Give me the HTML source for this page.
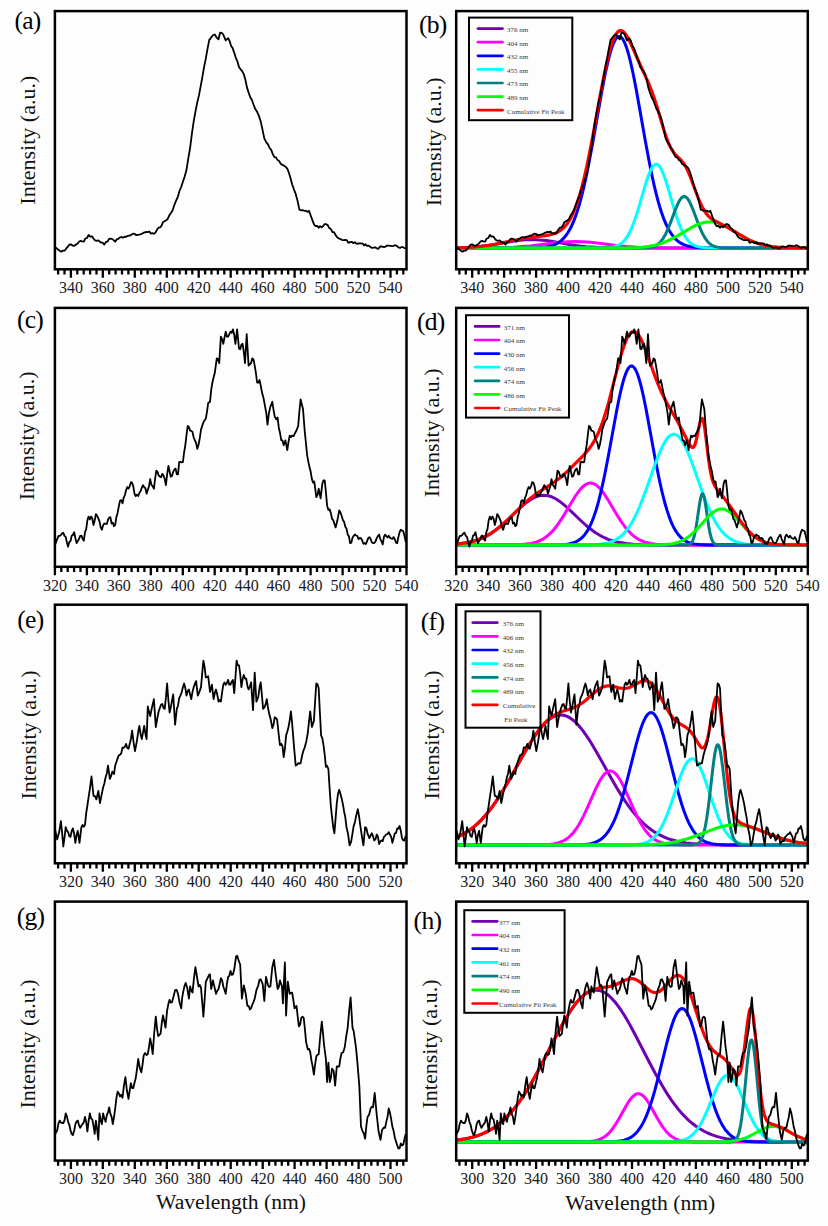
<!DOCTYPE html>
<html><head><meta charset="utf-8"><style>
html,body{margin:0;padding:0;background:#fdfdfd;}
body{width:828px;height:1226px;overflow:hidden;font-family:"Liberation Serif",serif;}
svg{display:block;}
</style></head><body>
<svg width="828" height="1226" viewBox="0 0 828 1226">
<clipPath id="clip00"><rect x="54.9" y="11.1" width="351.6" height="258.2"/></clipPath>
<path d="M58.1 269.3v5.1 M64.5 269.3v5.1 M70.9 269.3v8.4 M77.3 269.3v5.1 M83.7 269.3v5.1 M90.1 269.3v5.1 M96.5 269.3v5.1 M102.8 269.3v8.4 M109.2 269.3v5.1 M115.6 269.3v5.1 M122.0 269.3v5.1 M128.4 269.3v5.1 M134.8 269.3v8.4 M141.2 269.3v5.1 M147.6 269.3v5.1 M154.0 269.3v5.1 M160.4 269.3v5.1 M166.8 269.3v8.4 M173.2 269.3v5.1 M179.6 269.3v5.1 M186.0 269.3v5.1 M192.3 269.3v5.1 M198.7 269.3v8.4 M205.1 269.3v5.1 M211.5 269.3v5.1 M217.9 269.3v5.1 M224.3 269.3v5.1 M230.7 269.3v8.4 M237.1 269.3v5.1 M243.5 269.3v5.1 M249.9 269.3v5.1 M256.3 269.3v5.1 M262.7 269.3v8.4 M269.1 269.3v5.1 M275.4 269.3v5.1 M281.8 269.3v5.1 M288.2 269.3v5.1 M294.6 269.3v8.4 M301.0 269.3v5.1 M307.4 269.3v5.1 M313.8 269.3v5.1 M320.2 269.3v5.1 M326.6 269.3v8.4 M333.0 269.3v5.1 M339.4 269.3v5.1 M345.8 269.3v5.1 M352.2 269.3v5.1 M358.6 269.3v8.4 M364.9 269.3v5.1 M371.3 269.3v5.1 M377.7 269.3v5.1 M384.1 269.3v5.1 M390.5 269.3v8.4 M396.9 269.3v5.1 M403.3 269.3v5.1" stroke="#000" stroke-width="2.3" fill="none"/>
<g font-family="Liberation Serif, serif" font-size="16" text-anchor="middle" fill="#1a1a1a"><text x="70.9" y="293.1">340</text><text x="102.8" y="293.1">360</text><text x="134.8" y="293.1">380</text><text x="166.8" y="293.1">400</text><text x="198.7" y="293.1">420</text><text x="230.7" y="293.1">440</text><text x="262.7" y="293.1">460</text><text x="294.6" y="293.1">480</text><text x="326.6" y="293.1">500</text><text x="358.6" y="293.1">520</text><text x="390.5" y="293.1">540</text></g>
<g clip-path="url(#clip00)"><polyline points="54.8,247.1 56.4,248.1 58.1,249.6 59.7,250.7 61.3,251.7 62.9,250.6 64.5,250.7 66.1,248.7 67.7,246.9 69.3,244.6 70.9,244.3 72.5,245.5 74.2,245.8 75.8,244.8 77.4,243.8 79.0,241.7 80.6,240.8 82.2,241.3 83.8,241.7 85.4,238.5 87.0,238.0 88.6,235.0 90.3,236.6 91.9,236.3 93.5,238.6 95.1,240.3 96.7,240.8 98.3,240.3 99.8,241.7 101.3,242.7 102.8,242.7 104.3,244.6 105.9,242.0 107.4,241.7 108.9,239.1 110.4,238.6 112.0,238.9 113.6,240.1 115.2,241.7 116.8,239.2 118.4,238.8 120.0,237.4 121.5,237.0 122.9,237.7 124.4,236.7 125.8,236.8 127.3,236.2 128.7,235.7 130.2,235.6 131.6,234.6 133.1,233.7 134.5,233.8 136.0,235.0 137.4,235.0 138.9,234.6 140.3,234.3 141.8,233.8 143.3,232.9 144.8,232.3 146.3,232.0 147.8,232.1 149.3,231.5 150.8,233.6 152.4,233.1 153.9,233.8 155.5,232.6 157.1,229.5 158.7,227.7 160.1,227.4 161.6,225.7 163.0,222.2 164.5,221.2 165.9,220.5 167.6,219.1 169.2,215.6 170.8,213.2 172.6,210.2 174.4,204.8 176.2,200.3 178.0,196.3 179.6,190.5 181.2,187.0 182.9,181.8 184.7,176.5 186.5,169.8 188.3,158.3 190.1,148.0 191.9,133.7 193.7,121.4 195.5,111.4 197.3,102.1 199.0,95.2 200.6,86.6 202.2,78.0 204.0,67.4 205.8,58.6 207.6,48.4 209.4,39.3 210.0,39.3 211.6,36.8 213.2,35.0 214.8,34.5 216.6,37.6 218.5,39.3 220.1,32.6 221.7,32.8 223.3,34.5 224.5,37.7 225.7,40.5 226.9,39.2 228.1,38.1 229.6,41.0 231.1,45.9 232.6,48.1 234.2,52.6 235.8,57.8 237.4,61.4 239.0,67.1 240.6,69.3 242.2,71.2 243.8,74.3 245.4,79.8 247.0,87.6 248.6,92.5 250.3,97.2 251.9,100.0 253.5,104.5 255.3,109.1 257.1,111.8 258.9,115.9 260.7,121.4 262.5,129.6 264.3,138.4 266.2,142.2 268.0,144.4 269.6,148.0 271.2,149.9 272.8,154.1 274.4,157.2 276.0,157.4 277.6,160.1 279.2,161.1 280.9,164.0 282.5,164.9 284.1,165.7 285.7,166.9 287.3,168.6 288.9,172.8 290.5,178.0 292.1,184.3 293.9,189.3 295.7,193.9 297.6,201.1 299.4,209.6 301.0,210.3 302.6,210.1 304.2,210.8 305.8,210.7 307.4,211.9 309.0,210.8 310.6,215.2 312.3,219.9 313.9,224.1 315.5,226.2 317.1,225.8 318.7,227.7 320.1,226.2 321.6,227.3 323.0,226.3 324.5,224.2 325.9,224.1 327.6,225.0 329.2,227.9 330.8,228.9 332.4,232.0 334.0,232.2 335.6,235.0 337.1,237.3 338.6,238.3 340.1,238.8 341.6,239.8 343.3,240.1 345.0,239.8 346.7,240.1 348.4,242.8 350.1,242.2 351.7,241.8 353.3,243.1 354.9,242.2 356.5,243.8 358.1,243.5 359.8,243.4 361.2,243.4 362.7,243.6 364.1,245.4 365.6,244.3 367.0,245.8 368.6,245.6 370.2,246.8 371.8,247.9 373.4,247.7 375.1,247.3 376.7,248.3 378.1,249.0 379.6,247.1 381.0,246.4 382.5,246.7 383.9,247.1 385.5,246.7 387.1,245.6 388.7,245.7 390.4,245.9 392.0,246.2 393.6,245.8 395.2,245.2 396.8,245.9 398.4,247.4 400.0,247.8 401.6,247.2 403.2,247.1 404.4,248.1 405.7,248.3" fill="none" stroke="#000" stroke-width="1.8" stroke-linejoin="round"/></g>
<rect x="54.9" y="11.1" width="351.6" height="258.2" fill="none" stroke="#000" stroke-width="2.5"/>
<text x="14.4" y="29.4" font-family="Liberation Serif, serif" font-size="25.5" letter-spacing="-0.7" fill="#000">(a)</text>
<text transform="translate(34.9,140.2) rotate(-90)" text-anchor="middle" font-family="Liberation Serif, serif" font-size="22" fill="#111">Intensity (a.u.)</text>
<clipPath id="clip01"><rect x="456.2" y="11.1" width="351.6" height="258.2"/></clipPath>
<path d="M459.4 269.3v5.1 M465.8 269.3v5.1 M472.2 269.3v8.4 M478.6 269.3v5.1 M485.0 269.3v5.1 M491.4 269.3v5.1 M497.8 269.3v5.1 M504.1 269.3v8.4 M510.5 269.3v5.1 M516.9 269.3v5.1 M523.3 269.3v5.1 M529.7 269.3v5.1 M536.1 269.3v8.4 M542.5 269.3v5.1 M548.9 269.3v5.1 M555.3 269.3v5.1 M561.7 269.3v5.1 M568.1 269.3v8.4 M574.5 269.3v5.1 M580.9 269.3v5.1 M587.3 269.3v5.1 M593.6 269.3v5.1 M600.0 269.3v8.4 M606.4 269.3v5.1 M612.8 269.3v5.1 M619.2 269.3v5.1 M625.6 269.3v5.1 M632.0 269.3v8.4 M638.4 269.3v5.1 M644.8 269.3v5.1 M651.2 269.3v5.1 M657.6 269.3v5.1 M664.0 269.3v8.4 M670.4 269.3v5.1 M676.7 269.3v5.1 M683.1 269.3v5.1 M689.5 269.3v5.1 M695.9 269.3v8.4 M702.3 269.3v5.1 M708.7 269.3v5.1 M715.1 269.3v5.1 M721.5 269.3v5.1 M727.9 269.3v8.4 M734.3 269.3v5.1 M740.7 269.3v5.1 M747.1 269.3v5.1 M753.5 269.3v5.1 M759.9 269.3v8.4 M766.2 269.3v5.1 M772.6 269.3v5.1 M779.0 269.3v5.1 M785.4 269.3v5.1 M791.8 269.3v8.4 M798.2 269.3v5.1 M804.6 269.3v5.1" stroke="#000" stroke-width="2.3" fill="none"/>
<g font-family="Liberation Serif, serif" font-size="16" text-anchor="middle" fill="#1a1a1a"><text x="472.2" y="293.1">340</text><text x="504.1" y="293.1">360</text><text x="536.1" y="293.1">380</text><text x="568.1" y="293.1">400</text><text x="600.0" y="293.1">420</text><text x="632.0" y="293.1">440</text><text x="664.0" y="293.1">460</text><text x="695.9" y="293.1">480</text><text x="727.9" y="293.1">500</text><text x="759.9" y="293.1">520</text><text x="791.8" y="293.1">540</text></g>
<g clip-path="url(#clip01)"><polyline points="456.2,247.8 463.7,247.6 470.2,247.3 476.2,246.8 481.7,246.3 487.2,245.7 493.2,244.8 511.2,241.6 517.7,240.6 525.2,239.8 528.7,239.7 532.2,239.6 535.7,239.7 539.2,239.9 546.2,240.6 552.7,241.6 570.7,244.8 576.2,245.6 581.2,246.2 586.2,246.7 591.7,247.1 603.2,247.7 615.2,247.9 633.2,248.0 807.7,248.0" fill="none" stroke="#6f00b3" stroke-width="3" stroke-linejoin="round"/><polyline points="456.2,248.0 492.7,247.8 504.2,247.6 513.7,247.2 522.2,246.6 530.2,245.9 537.7,245.0 553.2,243.0 560.7,242.2 568.2,241.7 575.2,241.5 582.7,241.7 590.2,242.3 597.2,243.1 616.2,245.5 626.7,246.5 636.7,247.2 647.7,247.7 660.2,247.9 677.7,248.0 807.7,248.0" fill="none" stroke="#ff00ff" stroke-width="3" stroke-linejoin="round"/><polyline points="456.2,248.0 527.2,248.0 537.2,247.7 543.7,247.3 547.2,246.8 550.7,246.0 553.7,245.1 556.2,243.9 558.7,242.5 561.2,240.6 563.7,238.2 565.7,235.8 567.7,233.0 569.7,229.6 571.7,225.7 573.7,221.1 575.7,215.9 577.2,211.5 579.2,205.1 580.7,199.7 582.7,191.9 584.7,183.4 586.7,174.2 588.7,164.3 592.7,142.9 602.2,89.4 605.2,74.0 607.7,62.6 609.2,56.6 610.7,51.2 612.2,46.6 613.7,42.8 615.2,39.8 616.2,38.4 616.7,37.8 617.7,37.0 618.2,36.7 619.2,36.5 620.2,36.7 620.7,37.0 621.7,37.8 622.2,38.4 623.2,39.8 624.7,42.8 626.2,46.6 627.7,51.2 629.2,56.6 630.7,62.6 633.2,74.0 636.2,89.4 645.7,142.9 649.7,164.3 652.2,176.5 654.2,185.6 656.2,193.9 658.2,201.5 659.7,206.7 661.7,213.0 663.7,218.6 665.7,223.5 667.7,227.7 669.7,231.3 671.7,234.4 674.2,237.6 676.2,239.7 678.7,241.8 681.2,243.4 683.7,244.7 686.7,245.7 689.7,246.5 693.2,247.1 697.2,247.5 704.2,247.8 714.7,248.0 807.7,248.0" fill="none" stroke="#0000ff" stroke-width="3" stroke-linejoin="round"/><polyline points="456.2,248.0 600.7,247.9 606.7,247.8 610.7,247.4 614.2,246.7 617.2,245.8 619.2,244.8 620.7,243.8 622.7,242.2 624.2,240.7 625.7,238.8 627.2,236.7 628.7,234.1 630.2,231.2 631.7,227.9 633.2,224.2 636.2,215.7 638.7,207.6 645.2,185.2 647.2,179.0 648.7,174.8 650.7,170.1 651.7,168.2 652.7,166.7 653.7,165.5 654.7,164.7 655.7,164.3 656.2,164.3 656.7,164.3 657.7,164.7 658.7,165.5 659.7,166.7 660.7,168.2 661.7,170.1 663.7,174.8 665.2,179.0 667.2,185.2 673.7,207.6 676.2,215.7 679.2,224.2 681.7,230.2 684.2,235.0 685.7,237.4 687.2,239.5 688.7,241.2 690.2,242.6 691.7,243.8 693.2,244.8 694.7,245.5 696.2,246.1 697.7,246.6 699.7,247.1 703.7,247.6 708.7,247.9 721.2,248.0 807.7,248.0" fill="none" stroke="#00ffff" stroke-width="3" stroke-linejoin="round"/><polyline points="456.2,248.0 637.7,248.0 646.2,247.8 649.2,247.5 651.7,247.1 653.7,246.5 655.2,245.9 656.7,245.0 658.2,244.0 659.7,242.7 660.7,241.6 662.2,239.7 663.2,238.3 664.2,236.6 665.7,233.9 668.2,228.4 670.2,223.5 675.7,208.8 678.2,203.1 679.7,200.3 681.2,198.2 682.2,197.3 682.7,196.9 683.7,196.5 684.2,196.5 684.7,196.5 685.7,196.9 686.2,197.3 687.2,198.2 688.7,200.3 690.2,203.1 692.7,208.8 698.2,223.5 700.2,228.4 702.2,232.9 704.2,236.6 706.2,239.7 707.2,241.0 708.7,242.7 709.7,243.6 711.2,244.7 712.2,245.3 713.7,246.1 716.2,246.9 718.7,247.4 721.7,247.7 726.2,247.9 807.7,248.0" fill="none" stroke="#008080" stroke-width="3" stroke-linejoin="round"/><polyline points="456.2,248.0 616.2,248.0 625.7,247.9 632.7,247.7 638.7,247.4 643.7,246.9 649.2,246.2 654.7,245.2 659.7,243.9 664.2,242.3 668.7,240.4 673.7,237.9 678.7,235.1 690.2,228.2 693.2,226.6 696.2,225.1 699.7,223.7 703.2,222.7 706.7,222.1 709.7,221.9 712.7,222.1 715.7,222.6 718.7,223.5 722.2,224.8 725.2,226.2 728.2,227.8 741.7,235.8 748.2,239.3 751.7,241.0 755.2,242.4 758.7,243.6 762.2,244.6 766.2,245.6 770.2,246.3 774.7,246.9 779.2,247.3 784.7,247.6 790.7,247.8 807.7,248.0" fill="none" stroke="#00ff00" stroke-width="3" stroke-linejoin="round"/><polyline points="456.2,247.8 465.2,247.5 472.7,247.1 479.7,246.5 486.7,245.6 492.2,244.8 497.7,243.8 517.2,239.7 524.7,238.3 532.2,237.1 545.2,235.6 549.7,234.8 552.2,234.2 554.7,233.4 557.2,232.4 559.2,231.2 561.2,229.9 563.2,228.2 565.2,226.1 566.7,224.3 569.2,220.6 571.2,217.1 573.2,213.0 575.2,208.2 577.2,202.8 579.2,196.6 581.2,189.7 583.2,182.0 586.7,166.9 590.2,149.8 593.7,131.3 600.7,92.6 604.2,74.5 607.2,60.6 609.7,50.7 611.2,45.6 612.7,41.2 614.2,37.5 615.2,35.5 616.2,33.9 617.7,32.0 618.2,31.6 619.2,30.9 619.7,30.8 620.7,30.6 621.7,30.8 622.7,31.3 623.7,32.0 624.7,33.1 625.7,34.3 626.7,35.8 628.7,39.3 631.7,45.5 638.7,61.5 646.2,77.8 648.7,83.5 651.7,91.0 654.2,98.1 657.2,107.5 662.7,126.0 664.7,132.5 667.2,139.7 668.7,143.5 669.7,145.7 671.7,149.6 673.7,152.6 675.7,155.0 680.2,159.3 681.7,160.9 683.7,163.4 685.7,166.7 687.7,170.6 689.7,175.3 691.7,180.5 697.2,195.5 700.2,202.8 702.2,207.0 703.7,209.8 705.2,212.1 707.2,214.8 708.7,216.4 710.7,218.2 712.7,219.6 714.7,220.8 723.2,225.1 727.2,227.2 731.2,229.5 741.2,235.5 746.7,238.6 749.7,240.1 752.7,241.4 755.2,242.4 758.2,243.5 762.2,244.6 766.7,245.7 771.7,246.5 776.7,247.1 782.2,247.5 788.7,247.7 796.7,247.9 807.7,248.0" fill="none" stroke="#ff0000" stroke-width="3.2" stroke-linejoin="round"/><polyline points="456.1,247.1 457.7,248.1 459.4,249.6 461.0,250.7 462.6,251.7 464.2,250.6 465.8,250.7 467.4,248.7 469.0,246.9 470.6,244.6 472.2,244.3 473.8,245.5 475.5,245.8 477.1,244.8 478.7,243.8 480.3,241.7 481.9,240.8 483.5,241.3 485.1,241.7 486.7,238.5 488.3,238.0 489.9,235.0 491.6,236.6 493.2,236.3 494.8,238.6 496.4,240.3 498.0,240.8 499.6,240.3 501.1,241.7 502.6,242.7 504.1,242.7 505.6,244.6 507.2,242.0 508.7,241.7 510.2,239.1 511.7,238.6 513.3,238.9 514.9,240.1 516.5,241.7 518.1,239.2 519.7,238.8 521.3,237.4 522.8,237.0 524.2,237.7 525.7,236.7 527.1,236.8 528.6,236.2 530.0,235.7 531.5,235.6 532.9,234.6 534.4,233.7 535.8,233.8 537.3,235.0 538.7,235.0 540.2,234.6 541.6,234.3 543.1,233.8 544.6,232.9 546.1,232.3 547.6,232.0 549.1,232.1 550.6,231.5 552.1,233.6 553.7,233.1 555.2,233.8 556.8,232.6 558.4,229.5 560.0,227.7 561.4,227.4 562.9,225.7 564.3,222.2 565.8,221.2 567.2,220.5 568.9,219.1 570.5,215.6 572.1,213.2 573.9,210.2 575.7,204.8 577.5,200.3 579.3,196.3 580.9,190.5 582.5,187.0 584.2,181.8 586.0,176.5 587.8,169.8 589.6,158.3 591.4,148.0 593.2,133.7 595.0,121.4 596.8,111.4 598.6,102.1 600.3,95.2 601.9,86.6 603.5,78.0 605.3,67.4 607.1,58.6 608.9,48.4 610.7,39.3 611.3,39.3 612.9,36.8 614.5,35.0 616.1,34.5 617.9,37.6 619.8,39.3 621.4,32.6 623.0,32.8 624.6,34.5 625.8,37.7 627.0,40.5 628.2,39.2 629.4,38.1 630.9,41.0 632.4,45.9 633.9,48.1 635.5,52.6 637.1,57.8 638.7,61.4 640.3,67.1 641.9,69.3 643.5,71.2 645.1,74.3 646.7,79.8 648.3,87.6 649.9,92.5 651.6,97.2 653.2,100.0 654.8,104.5 656.6,109.1 658.4,111.8 660.2,115.9 662.0,121.4 663.8,129.6 665.6,138.4 667.5,142.2 669.3,144.4 670.9,148.0 672.5,149.9 674.1,154.1 675.7,157.2 677.3,157.4 678.9,160.1 680.5,161.1 682.2,164.0 683.8,164.9 685.4,165.7 687.0,166.9 688.6,168.6 690.2,172.8 691.8,178.0 693.4,184.3 695.2,189.3 697.0,193.9 698.9,201.1 700.7,209.6 702.3,210.3 703.9,210.1 705.5,210.8 707.1,210.7 708.7,211.9 710.3,210.8 711.9,215.2 713.6,219.9 715.2,224.1 716.8,226.2 718.4,225.8 720.0,227.7 721.4,226.2 722.9,227.3 724.3,226.3 725.8,224.2 727.2,224.1 728.9,225.0 730.5,227.9 732.1,228.9 733.7,232.0 735.3,232.2 736.9,235.0 738.4,237.3 739.9,238.3 741.4,238.8 742.9,239.8 744.6,240.1 746.3,239.8 748.0,240.1 749.7,242.8 751.4,242.2 753.0,241.8 754.6,243.1 756.2,242.2 757.8,243.8 759.4,243.5 761.1,243.4 762.5,243.4 764.0,243.6 765.4,245.4 766.9,244.3 768.3,245.8 769.9,245.6 771.5,246.8 773.1,247.9 774.7,247.7 776.4,247.3 778.0,248.3 779.4,249.0 780.9,247.1 782.3,246.4 783.8,246.7 785.2,247.1 786.8,246.7 788.4,245.6 790.0,245.7 791.7,245.9 793.3,246.2 794.9,245.8 796.5,245.2 798.1,245.9 799.7,247.4 801.3,247.8 802.9,247.2 804.5,247.1 805.7,248.1 807.0,248.3" fill="none" stroke="#000" stroke-width="1.8" stroke-linejoin="round"/></g>
<rect x="456.2" y="11.1" width="351.6" height="258.2" fill="none" stroke="#000" stroke-width="2.5"/>
<rect x="469.0" y="17.6" width="103.3" height="102.6" fill="none" stroke="#000" stroke-width="2"/>
<line x1="478.0" y1="28.6" x2="502.5" y2="28.6" stroke="#6f00b3" stroke-width="2.7" stroke-linecap="round"/>
<line x1="478.0" y1="42.2" x2="502.5" y2="42.2" stroke="#ff00ff" stroke-width="2.7" stroke-linecap="round"/>
<line x1="478.0" y1="55.8" x2="502.5" y2="55.8" stroke="#0000ff" stroke-width="2.7" stroke-linecap="round"/>
<line x1="478.0" y1="69.4" x2="502.5" y2="69.4" stroke="#00ffff" stroke-width="2.7" stroke-linecap="round"/>
<line x1="478.0" y1="83.0" x2="502.5" y2="83.0" stroke="#008080" stroke-width="2.7" stroke-linecap="round"/>
<line x1="478.0" y1="96.6" x2="502.5" y2="96.6" stroke="#00ff00" stroke-width="2.7" stroke-linecap="round"/>
<line x1="478.0" y1="110.2" x2="502.5" y2="110.2" stroke="#ff0000" stroke-width="2.7" stroke-linecap="round"/>
<g font-family="Liberation Serif, serif" font-size="7" fill="#3a3a3a"><text x="507.0" y="31.9">376 nm</text><text x="507.0" y="45.5">404 nm</text><text x="507.0" y="59.1">432 nm</text><text x="507.0" y="72.7">455 nm</text><text x="507.0" y="86.3">473 nm</text><text x="507.0" y="99.9">489 nm</text><text x="507.0" y="113.5">Cumulative Fit Peak</text></g>
<text x="419.0" y="32.5" font-family="Liberation Serif, serif" font-size="25.5" letter-spacing="-0.7" fill="#000">(b)</text>
<text transform="translate(441.4,141.8) rotate(-90)" text-anchor="middle" font-family="Liberation Serif, serif" font-size="22" fill="#111">Intensity (a.u.)</text>
<clipPath id="clip10"><rect x="54.9" y="307.9" width="351.6" height="258.9"/></clipPath>
<path d="M54.9 566.8v8.4 M61.3 566.8v5.1 M67.7 566.8v5.1 M74.1 566.8v5.1 M80.5 566.8v5.1 M86.9 566.8v8.4 M93.3 566.8v5.1 M99.6 566.8v5.1 M106.0 566.8v5.1 M112.4 566.8v5.1 M118.8 566.8v8.4 M125.2 566.8v5.1 M131.6 566.8v5.1 M138.0 566.8v5.1 M144.4 566.8v5.1 M150.8 566.8v8.4 M157.2 566.8v5.1 M163.6 566.8v5.1 M170.0 566.8v5.1 M176.4 566.8v5.1 M182.8 566.8v8.4 M189.1 566.8v5.1 M195.5 566.8v5.1 M201.9 566.8v5.1 M208.3 566.8v5.1 M214.7 566.8v8.4 M221.1 566.8v5.1 M227.5 566.8v5.1 M233.9 566.8v5.1 M240.3 566.8v5.1 M246.7 566.8v8.4 M253.1 566.8v5.1 M259.5 566.8v5.1 M265.9 566.8v5.1 M272.3 566.8v5.1 M278.6 566.8v8.4 M285.0 566.8v5.1 M291.4 566.8v5.1 M297.8 566.8v5.1 M304.2 566.8v5.1 M310.6 566.8v8.4 M317.0 566.8v5.1 M323.4 566.8v5.1 M329.8 566.8v5.1 M336.2 566.8v5.1 M342.6 566.8v8.4 M349.0 566.8v5.1 M355.4 566.8v5.1 M361.8 566.8v5.1 M368.1 566.8v5.1 M374.5 566.8v8.4 M380.9 566.8v5.1 M387.3 566.8v5.1 M393.7 566.8v5.1 M400.1 566.8v5.1 M406.5 566.8v8.4" stroke="#000" stroke-width="2.3" fill="none"/>
<g font-family="Liberation Serif, serif" font-size="16" text-anchor="middle" fill="#1a1a1a"><text x="54.9" y="590.6">320</text><text x="86.9" y="590.6">340</text><text x="118.8" y="590.6">360</text><text x="150.8" y="590.6">380</text><text x="182.8" y="590.6">400</text><text x="214.7" y="590.6">420</text><text x="246.7" y="590.6">440</text><text x="278.6" y="590.6">460</text><text x="310.6" y="590.6">480</text><text x="342.6" y="590.6">500</text><text x="374.5" y="590.6">520</text><text x="406.5" y="590.6">540</text></g>
<g clip-path="url(#clip10)"><polyline points="55.3,544.3 56.9,539.9 58.5,535.8 59.7,535.9 60.9,535.1 62.1,533.4 63.3,532.8 64.5,535.8 65.7,536.9 66.9,542.4 68.1,546.7 69.3,541.9 70.5,541.1 71.7,535.8 72.9,535.0 74.2,532.2 75.4,538.2 76.6,543.1 77.8,541.0 79.0,539.1 80.2,535.8 81.4,535.6 82.6,538.8 83.8,540.7 85.0,532.1 86.2,529.1 87.4,520.1 88.6,516.6 89.9,519.4 91.1,516.5 92.3,518.5 93.5,525.0 94.7,520.5 95.9,514.1 97.1,515.7 98.3,518.4 99.5,521.4 100.7,527.4 101.9,529.8 103.1,525.3 104.3,523.5 105.6,523.8 106.8,523.9 108.0,519.8 109.2,517.7 110.4,517.2 111.6,523.5 112.8,522.6 114.0,526.1 115.2,525.0 116.4,516.9 117.6,512.9 118.8,506.5 120.0,500.8 121.3,500.1 122.5,503.2 123.7,497.8 124.9,495.0 126.1,490.0 127.3,487.0 128.5,488.6 129.7,486.3 130.9,482.2 132.1,482.7 133.3,486.4 134.5,493.6 135.7,496.0 137.0,494.7 138.2,496.0 139.4,492.9 140.6,491.1 141.8,487.7 143.0,485.1 144.2,487.3 145.4,488.3 146.6,493.6 147.8,489.9 149.0,486.3 150.2,479.1 151.4,484.8 152.7,486.4 153.9,488.7 155.1,478.9 156.3,470.6 157.5,471.9 158.7,475.6 159.9,476.7 161.1,477.2 162.3,473.9 163.5,475.5 164.7,478.9 165.9,485.1 167.1,474.7 168.4,465.8 169.6,471.3 170.8,476.7 172.0,475.9 173.2,471.8 174.4,469.4 175.6,468.6 176.8,474.3 178.0,474.3 179.2,462.2 180.4,461.8 181.6,462.3 182.9,462.2 184.1,452.3 185.3,445.3 186.5,435.2 187.7,425.9 188.9,427.0 190.1,430.6 191.3,430.8 192.5,431.9 193.7,437.5 194.9,440.4 196.1,443.0 197.3,448.9 198.6,444.5 199.8,438.0 201.0,429.6 202.2,425.9 203.4,422.4 204.6,420.3 205.8,418.7 207.0,411.6 208.2,403.0 210.0,401.8 211.2,389.8 212.4,382.5 213.6,377.4 214.8,372.8 216.8,358.3 218.0,359.2 219.2,363.1 220.9,336.6 222.1,339.1 223.3,343.8 224.5,337.7 225.7,331.7 226.9,336.5 228.1,336.6 229.3,334.1 230.5,331.7 231.7,332.9 232.9,329.3 234.2,334.8 235.4,343.8 237.1,329.3 239.0,348.6 240.2,349.2 241.4,344.7 242.6,343.8 243.8,351.9 245.0,363.1 246.7,334.2 248.6,365.6 249.9,364.4 251.1,362.9 252.3,358.3 253.5,359.4 254.7,365.6 255.9,372.8 257.1,382.5 258.3,382.7 259.5,380.0 260.7,385.3 261.9,392.1 263.5,398.0 265.1,406.6 266.3,413.1 267.5,424.7 268.9,413.3 270.4,406.6 272.3,401.8 273.5,409.7 274.7,416.3 276.2,419.4 277.6,417.5 278.8,427.7 280.0,432.8 281.3,440.4 282.5,440.4 283.7,445.3 285.4,440.4 287.3,450.1 288.5,441.9 289.7,435.6 290.9,437.1 292.1,435.6 293.6,436.1 295.0,433.2 296.6,430.3 298.2,425.9 299.4,411.3 300.6,399.4 301.8,404.3 303.0,409.0 304.7,430.8 305.9,442.7 307.1,454.9 308.3,461.6 309.5,467.0 310.7,471.8 311.9,479.1 313.1,482.6 314.3,481.5 316.3,497.2 317.5,495.0 318.7,488.7 320.6,498.4 322.3,483.9 323.5,480.3 324.7,480.3 325.9,491.9 327.1,505.7 328.4,510.0 329.6,509.3 330.8,512.9 332.0,518.8 333.2,520.1 334.4,523.8 335.6,527.4 336.8,522.8 338.0,517.2 339.2,510.5 340.4,512.2 341.6,515.8 342.9,520.1 344.1,521.7 345.3,526.7 346.5,528.6 347.7,534.4 348.9,536.3 350.1,543.1 351.3,542.7 352.5,537.8 353.7,535.8 354.9,534.5 356.1,535.5 357.3,535.8 358.6,539.1 359.8,537.8 361.0,538.3 362.2,540.5 363.4,543.7 364.6,543.1 365.8,544.0 367.0,541.4 368.2,538.1 369.4,537.1 370.6,539.0 371.8,542.2 373.0,543.1 374.3,543.1 375.5,541.4 376.7,538.1 377.9,536.1 379.1,534.6 380.3,539.1 381.5,541.4 382.7,544.3 383.9,537.0 385.1,534.6 386.3,536.1 387.5,537.5 388.7,535.8 390.0,537.7 391.2,538.5 392.4,538.9 393.6,537.1 394.8,539.2 396.0,542.6 397.2,543.1 398.4,537.0 399.6,532.2 400.8,529.7 402.0,530.7 403.2,531.0 404.4,535.5 405.7,541.9" fill="none" stroke="#000" stroke-width="1.8" stroke-linejoin="round"/></g>
<rect x="54.9" y="307.9" width="351.6" height="258.9" fill="none" stroke="#000" stroke-width="2.5"/>
<text x="16.9" y="327.9" font-family="Liberation Serif, serif" font-size="25.5" letter-spacing="-0.7" fill="#000">(c)</text>
<text transform="translate(34.4,435.9) rotate(-90)" text-anchor="middle" font-family="Liberation Serif, serif" font-size="22" fill="#111">Intensity (a.u.)</text>
<clipPath id="clip11"><rect x="456.2" y="307.9" width="351.6" height="258.9"/></clipPath>
<path d="M456.2 566.8v8.4 M462.6 566.8v5.1 M469.0 566.8v5.1 M475.4 566.8v5.1 M481.8 566.8v5.1 M488.2 566.8v8.4 M494.6 566.8v5.1 M500.9 566.8v5.1 M507.3 566.8v5.1 M513.7 566.8v5.1 M520.1 566.8v8.4 M526.5 566.8v5.1 M532.9 566.8v5.1 M539.3 566.8v5.1 M545.7 566.8v5.1 M552.1 566.8v8.4 M558.5 566.8v5.1 M564.9 566.8v5.1 M571.3 566.8v5.1 M577.7 566.8v5.1 M584.1 566.8v8.4 M590.4 566.8v5.1 M596.8 566.8v5.1 M603.2 566.8v5.1 M609.6 566.8v5.1 M616.0 566.8v8.4 M622.4 566.8v5.1 M628.8 566.8v5.1 M635.2 566.8v5.1 M641.6 566.8v5.1 M648.0 566.8v8.4 M654.4 566.8v5.1 M660.8 566.8v5.1 M667.2 566.8v5.1 M673.6 566.8v5.1 M679.9 566.8v8.4 M686.3 566.8v5.1 M692.7 566.8v5.1 M699.1 566.8v5.1 M705.5 566.8v5.1 M711.9 566.8v8.4 M718.3 566.8v5.1 M724.7 566.8v5.1 M731.1 566.8v5.1 M737.5 566.8v5.1 M743.9 566.8v8.4 M750.3 566.8v5.1 M756.7 566.8v5.1 M763.1 566.8v5.1 M769.4 566.8v5.1 M775.8 566.8v8.4 M782.2 566.8v5.1 M788.6 566.8v5.1 M795.0 566.8v5.1 M801.4 566.8v5.1 M807.8 566.8v8.4" stroke="#000" stroke-width="2.3" fill="none"/>
<g font-family="Liberation Serif, serif" font-size="16" text-anchor="middle" fill="#1a1a1a"><text x="456.2" y="590.6">320</text><text x="488.2" y="590.6">340</text><text x="520.1" y="590.6">360</text><text x="552.1" y="590.6">380</text><text x="584.1" y="590.6">400</text><text x="616.0" y="590.6">420</text><text x="648.0" y="590.6">440</text><text x="679.9" y="590.6">460</text><text x="711.9" y="590.6">480</text><text x="743.9" y="590.6">500</text><text x="775.8" y="590.6">520</text><text x="807.8" y="590.6">540</text></g>
<g clip-path="url(#clip11)"><polyline points="456.2,544.1 460.7,543.6 465.2,543.0 469.2,542.3 473.2,541.3 476.7,540.2 480.2,538.9 483.7,537.4 487.2,535.6 490.2,533.9 493.7,531.5 496.7,529.3 500.2,526.5 503.2,523.9 506.7,520.7 516.7,511.1 520.7,507.3 524.7,503.9 528.2,501.2 530.2,499.9 532.2,498.7 534.2,497.6 536.2,496.8 538.2,496.1 540.2,495.6 542.2,495.4 543.7,495.3 545.2,495.4 547.2,495.6 549.2,496.0 551.2,496.7 553.2,497.5 555.2,498.5 557.2,499.7 559.7,501.4 563.2,504.1 567.2,507.6 580.7,520.5 586.2,525.5 589.2,528.0 592.2,530.3 595.2,532.4 597.7,534.0 600.2,535.5 602.7,536.8 605.2,538.0 608.2,539.3 611.2,540.3 614.2,541.2 617.2,542.0 620.2,542.6 626.2,543.5 633.2,544.2 641.7,544.7 652.2,544.9 676.7,545.0 807.7,545.0" fill="none" stroke="#6f00b3" stroke-width="3" stroke-linejoin="round"/><polyline points="456.2,545.0 504.7,545.0 513.2,544.9 519.7,544.7 526.2,544.1 531.2,543.4 533.7,542.8 535.7,542.2 537.7,541.5 539.7,540.7 541.7,539.7 543.7,538.6 545.7,537.2 547.7,535.7 549.7,533.9 551.7,531.9 553.7,529.7 555.7,527.3 558.7,523.2 562.2,517.9 565.2,513.0 572.2,501.2 575.2,496.4 578.2,492.1 580.7,488.9 583.2,486.4 584.7,485.2 585.7,484.6 587.2,483.8 588.2,483.4 589.7,483.1 590.7,483.1 591.7,483.2 593.2,483.6 594.7,484.2 596.2,485.1 597.2,485.9 598.7,487.3 600.2,488.8 601.7,490.6 604.2,494.0 607.2,498.6 616.7,514.5 620.7,520.9 624.7,526.5 626.7,529.0 628.7,531.3 630.7,533.3 632.7,535.2 634.7,536.8 636.7,538.2 638.7,539.4 641.2,540.7 643.7,541.7 646.2,542.5 650.7,543.5 655.7,544.2 661.7,544.7 669.7,544.9 687.7,545.0 807.7,545.0" fill="none" stroke="#ff00ff" stroke-width="3" stroke-linejoin="round"/><polyline points="456.2,545.0 546.7,545.0 556.2,544.9 562.2,544.7 565.7,544.4 568.7,543.9 571.7,543.3 574.2,542.5 576.7,541.4 578.7,540.2 580.7,538.8 582.7,536.9 584.7,534.7 586.7,531.9 588.7,528.5 590.2,525.6 592.2,521.0 593.7,517.1 595.7,511.2 597.2,506.3 598.7,500.9 600.7,492.9 602.7,484.2 604.7,474.7 608.2,456.7 616.7,410.4 619.2,398.0 621.7,387.0 623.2,381.4 624.2,378.0 625.7,373.7 626.7,371.3 628.2,368.5 629.2,367.2 630.2,366.4 630.7,366.1 631.7,366.0 632.7,366.3 633.2,366.7 634.2,367.7 635.2,369.2 636.7,372.2 637.7,374.7 639.2,379.3 640.2,382.8 641.7,388.7 643.7,397.5 646.2,409.9 654.7,456.2 658.2,474.2 660.2,483.7 662.2,492.5 664.2,500.5 665.7,505.9 667.2,510.9 669.2,516.9 670.7,520.8 672.7,525.3 674.2,528.3 676.2,531.7 678.2,534.5 680.2,536.8 682.2,538.7 684.2,540.2 686.2,541.4 688.7,542.5 691.2,543.3 694.2,543.9 697.2,544.3 700.7,544.6 707.2,544.9 716.7,545.0 807.7,545.0" fill="none" stroke="#0000ff" stroke-width="3" stroke-linejoin="round"/><polyline points="456.2,545.0 571.2,545.0 582.7,544.9 590.2,544.8 598.2,544.4 601.7,544.0 604.7,543.5 607.7,542.9 610.2,542.2 612.7,541.2 614.7,540.3 617.2,538.9 619.7,537.2 622.2,535.1 624.2,533.1 626.7,530.1 628.7,527.4 630.7,524.4 632.7,521.0 634.7,517.2 637.2,512.1 639.2,507.5 641.7,501.4 645.7,490.8 656.2,461.3 659.2,453.6 661.7,448.0 663.2,444.9 664.7,442.2 666.2,439.8 667.7,437.9 669.2,436.3 670.7,435.2 672.2,434.5 673.7,434.2 674.7,434.3 676.2,434.8 677.2,435.4 678.7,436.6 679.7,437.6 681.2,439.6 682.7,441.9 684.2,444.5 685.7,447.5 687.2,450.8 690.2,458.1 693.7,467.6 700.7,487.5 703.7,495.7 707.2,504.6 710.7,512.7 712.7,516.8 714.7,520.6 716.7,524.1 718.7,527.1 720.7,529.9 722.7,532.3 724.7,534.4 726.7,536.2 728.7,537.8 731.2,539.4 733.2,540.5 735.7,541.5 738.2,542.4 741.2,543.2 744.2,543.8 747.7,544.2 754.2,544.7 763.2,544.9 807.7,545.0" fill="none" stroke="#00ffff" stroke-width="3" stroke-linejoin="round"/><polyline points="456.2,545.0 682.2,545.0 686.2,544.9 688.2,544.7 689.2,544.5 690.2,544.0 691.2,543.1 691.7,542.5 692.7,540.7 693.2,539.5 694.2,536.3 695.2,532.0 696.2,526.6 699.2,506.3 700.2,500.3 701.2,495.9 701.7,494.5 702.2,493.8 702.7,493.8 703.2,494.3 703.7,495.6 704.2,497.4 704.7,499.7 705.7,505.6 708.7,526.0 709.7,531.6 710.7,536.0 711.7,539.2 712.7,541.5 713.7,543.0 714.2,543.5 715.2,544.2 716.2,544.6 717.2,544.8 720.7,545.0 807.7,545.0" fill="none" stroke="#008080" stroke-width="3" stroke-linejoin="round"/><polyline points="456.2,545.0 647.7,545.0 655.7,544.9 661.2,544.7 665.7,544.5 669.7,544.1 672.2,543.7 674.7,543.2 677.2,542.5 679.2,541.8 681.2,541.0 683.2,540.1 685.2,539.0 687.2,537.7 690.7,535.1 694.7,531.4 698.7,527.2 707.2,517.7 709.7,515.2 711.7,513.4 714.2,511.5 716.7,510.1 718.2,509.5 719.2,509.3 720.7,509.0 721.7,509.0 723.7,509.2 724.7,509.5 726.2,510.1 728.2,511.1 730.7,512.9 732.7,514.6 735.2,517.1 745.7,528.7 748.2,531.3 750.7,533.7 753.7,536.2 756.2,538.0 759.2,539.8 762.2,541.2 765.7,542.5 769.2,543.4 773.2,544.0 777.2,544.5 781.7,544.7 787.7,544.9 807.7,545.0" fill="none" stroke="#00ff00" stroke-width="3" stroke-linejoin="round"/><polyline points="456.2,544.1 462.2,543.4 467.7,542.6 472.7,541.4 477.2,540.1 481.7,538.3 485.7,536.4 490.2,533.9 494.2,531.2 499.2,527.3 504.2,523.0 509.2,518.3 522.7,505.0 526.7,501.4 530.7,498.0 534.7,494.9 538.7,492.1 550.2,484.8 554.7,481.7 559.2,478.4 563.2,475.1 569.2,469.6 577.2,461.7 583.2,455.6 587.2,451.1 589.7,447.9 591.7,445.1 593.7,441.9 595.7,438.4 597.7,434.3 599.2,430.9 601.2,425.9 602.7,421.8 605.7,412.5 608.7,402.1 611.7,390.7 617.7,367.2 620.2,357.9 622.7,349.6 625.2,342.5 626.7,339.0 627.7,337.1 628.7,335.4 629.7,334.0 630.7,332.9 631.7,332.1 632.7,331.7 633.7,331.5 634.2,331.6 635.2,331.9 636.2,332.5 637.2,333.4 638.2,334.6 639.2,336.0 641.2,339.6 643.2,343.9 645.7,350.2 653.7,372.7 656.7,380.8 659.7,388.2 662.2,393.8 664.2,397.9 666.7,402.7 678.2,422.8 682.2,430.3 688.2,442.2 689.7,444.8 690.7,446.2 691.7,447.2 692.2,447.4 692.7,447.5 693.2,447.3 693.7,446.9 694.2,446.2 694.7,445.2 695.7,442.3 696.7,438.2 699.2,425.7 700.2,421.5 700.7,419.9 701.2,418.8 701.7,418.3 702.2,418.4 702.7,419.2 703.2,420.6 703.7,422.6 704.7,428.3 705.7,435.7 708.2,456.5 709.7,467.2 711.2,475.3 712.2,479.3 713.2,482.3 714.7,485.7 715.7,487.4 716.7,488.9 723.7,497.6 727.2,502.2 731.2,507.7 740.2,520.6 742.7,523.9 745.2,527.1 748.2,530.6 750.7,533.2 753.2,535.4 755.7,537.4 758.2,539.0 761.2,540.6 763.7,541.7 766.7,542.7 769.7,543.4 772.7,544.0 776.2,544.4 780.2,544.7 789.7,544.9 807.7,545.0" fill="none" stroke="#ff0000" stroke-width="3.2" stroke-linejoin="round"/><polyline points="456.6,544.3 458.2,539.9 459.8,535.8 461.0,535.9 462.2,535.1 463.4,533.4 464.6,532.8 465.8,535.8 467.0,536.9 468.2,542.4 469.4,546.7 470.6,541.9 471.8,541.1 473.0,535.8 474.2,535.0 475.5,532.2 476.7,538.2 477.9,543.1 479.1,541.0 480.3,539.1 481.5,535.8 482.7,535.6 483.9,538.8 485.1,540.7 486.3,532.1 487.5,529.1 488.7,520.1 489.9,516.6 491.2,519.4 492.4,516.5 493.6,518.5 494.8,525.0 496.0,520.5 497.2,514.1 498.4,515.7 499.6,518.4 500.8,521.4 502.0,527.4 503.2,529.8 504.4,525.3 505.6,523.5 506.9,523.8 508.1,523.9 509.3,519.8 510.5,517.7 511.7,517.2 512.9,523.5 514.1,522.6 515.3,526.1 516.5,525.0 517.7,516.9 518.9,512.9 520.1,506.5 521.3,500.8 522.6,500.1 523.8,503.2 525.0,497.8 526.2,495.0 527.4,490.0 528.6,487.0 529.8,488.6 531.0,486.3 532.2,482.2 533.4,482.7 534.6,486.4 535.8,493.6 537.0,496.0 538.3,494.7 539.5,496.0 540.7,492.9 541.9,491.1 543.1,487.7 544.3,485.1 545.5,487.3 546.7,488.3 547.9,493.6 549.1,489.9 550.3,486.3 551.5,479.1 552.7,484.8 554.0,486.4 555.2,488.7 556.4,478.9 557.6,470.6 558.8,471.9 560.0,475.6 561.2,476.7 562.4,477.2 563.6,473.9 564.8,475.5 566.0,478.9 567.2,485.1 568.4,474.7 569.7,465.8 570.9,471.3 572.1,476.7 573.3,475.9 574.5,471.8 575.7,469.4 576.9,468.6 578.1,474.3 579.3,474.3 580.5,462.2 581.7,461.8 582.9,462.3 584.2,462.2 585.4,452.3 586.6,445.3 587.8,435.2 589.0,425.9 590.2,427.0 591.4,430.6 592.6,430.8 593.8,431.9 595.0,437.5 596.2,440.4 597.4,443.0 598.6,448.9 599.9,444.5 601.1,438.0 602.3,429.6 603.5,425.9 604.7,422.4 605.9,420.3 607.1,418.7 608.3,411.6 609.5,403.0 611.3,401.8 612.5,389.8 613.7,382.5 614.9,377.4 616.1,372.8 618.1,358.3 619.3,359.2 620.5,363.1 622.2,336.6 623.4,339.1 624.6,343.8 625.8,337.7 627.0,331.7 628.2,336.5 629.4,336.6 630.6,334.1 631.8,331.7 633.0,332.9 634.2,329.3 635.5,334.8 636.7,343.8 638.4,329.3 640.3,348.6 641.5,349.2 642.7,344.7 643.9,343.8 645.1,351.9 646.3,363.1 648.0,334.2 649.9,365.6 651.2,364.4 652.4,362.9 653.6,358.3 654.8,359.4 656.0,365.6 657.2,372.8 658.4,382.5 659.6,382.7 660.8,380.0 662.0,385.3 663.2,392.1 664.8,398.0 666.4,406.6 667.6,413.1 668.8,424.7 670.2,413.3 671.7,406.6 673.6,401.8 674.8,409.7 676.0,416.3 677.5,419.4 678.9,417.5 680.1,427.7 681.3,432.8 682.6,440.4 683.8,440.4 685.0,445.3 686.7,440.4 688.6,450.1 689.8,441.9 691.0,435.6 692.2,437.1 693.4,435.6 694.9,436.1 696.3,433.2 697.9,430.3 699.5,425.9 700.7,411.3 701.9,399.4 703.1,404.3 704.3,409.0 706.0,430.8 707.2,442.7 708.4,454.9 709.6,461.6 710.8,467.0 712.0,471.8 713.2,479.1 714.4,482.6 715.6,481.5 717.6,497.2 718.8,495.0 720.0,488.7 721.9,498.4 723.6,483.9 724.8,480.3 726.0,480.3 727.2,491.9 728.4,505.7 729.7,510.0 730.9,509.3 732.1,512.9 733.3,518.8 734.5,520.1 735.7,523.8 736.9,527.4 738.1,522.8 739.3,517.2 740.5,510.5 741.7,512.2 742.9,515.8 744.2,520.1 745.4,521.7 746.6,526.7 747.8,528.6 749.0,534.4 750.2,536.3 751.4,543.1 752.6,542.7 753.8,537.8 755.0,535.8 756.2,534.5 757.4,535.5 758.6,535.8 759.9,539.1 761.1,537.8 762.3,538.3 763.5,540.5 764.7,543.7 765.9,543.1 767.1,544.0 768.3,541.4 769.5,538.1 770.7,537.1 771.9,539.0 773.1,542.2 774.3,543.1 775.6,543.1 776.8,541.4 778.0,538.1 779.2,536.1 780.4,534.6 781.6,539.1 782.8,541.4 784.0,544.3 785.2,537.0 786.4,534.6 787.6,536.1 788.8,537.5 790.0,535.8 791.3,537.7 792.5,538.5 793.7,538.9 794.9,537.1 796.1,539.2 797.3,542.6 798.5,543.1 799.7,537.0 800.9,532.2 802.1,529.7 803.3,530.7 804.5,531.0 805.7,535.5 807.0,541.9" fill="none" stroke="#000" stroke-width="1.8" stroke-linejoin="round"/></g>
<rect x="456.2" y="307.9" width="351.6" height="258.9" fill="none" stroke="#000" stroke-width="2.5"/>
<rect x="466.0" y="315.2" width="103.0" height="102.4" fill="none" stroke="#000" stroke-width="2"/>
<line x1="475.1" y1="326.4" x2="499.1" y2="326.4" stroke="#6f00b3" stroke-width="2.7" stroke-linecap="round"/>
<line x1="475.1" y1="340.0" x2="499.1" y2="340.0" stroke="#ff00ff" stroke-width="2.7" stroke-linecap="round"/>
<line x1="475.1" y1="353.6" x2="499.1" y2="353.6" stroke="#0000ff" stroke-width="2.7" stroke-linecap="round"/>
<line x1="475.1" y1="367.2" x2="499.1" y2="367.2" stroke="#00ffff" stroke-width="2.7" stroke-linecap="round"/>
<line x1="475.1" y1="380.8" x2="499.1" y2="380.8" stroke="#008080" stroke-width="2.7" stroke-linecap="round"/>
<line x1="475.1" y1="394.4" x2="499.1" y2="394.4" stroke="#00ff00" stroke-width="2.7" stroke-linecap="round"/>
<line x1="475.1" y1="408.0" x2="499.1" y2="408.0" stroke="#ff0000" stroke-width="2.7" stroke-linecap="round"/>
<g font-family="Liberation Serif, serif" font-size="7" fill="#3a3a3a"><text x="503.8" y="329.7">371 nm</text><text x="503.8" y="343.3">404 nm</text><text x="503.8" y="356.9">430 nm</text><text x="503.8" y="370.5">456 nm</text><text x="503.8" y="384.1">474 nm</text><text x="503.8" y="397.7">486 nm</text><text x="503.8" y="411.3">Cumulative Fit Peak</text></g>
<text x="416.9" y="330.0" font-family="Liberation Serif, serif" font-size="25.5" letter-spacing="-0.7" fill="#000">(d)</text>
<text transform="translate(439.1,432.8) rotate(-90)" text-anchor="middle" font-family="Liberation Serif, serif" font-size="22" fill="#111">Intensity (a.u.)</text>
<clipPath id="clip20"><rect x="54.9" y="604.7" width="351.6" height="258.6"/></clipPath>
<path d="M58.1 863.3v5.1 M64.5 863.3v5.1 M70.9 863.3v8.4 M77.3 863.3v5.1 M83.7 863.3v5.1 M90.1 863.3v5.1 M96.5 863.3v5.1 M102.8 863.3v8.4 M109.2 863.3v5.1 M115.6 863.3v5.1 M122.0 863.3v5.1 M128.4 863.3v5.1 M134.8 863.3v8.4 M141.2 863.3v5.1 M147.6 863.3v5.1 M154.0 863.3v5.1 M160.4 863.3v5.1 M166.8 863.3v8.4 M173.2 863.3v5.1 M179.6 863.3v5.1 M186.0 863.3v5.1 M192.3 863.3v5.1 M198.7 863.3v8.4 M205.1 863.3v5.1 M211.5 863.3v5.1 M217.9 863.3v5.1 M224.3 863.3v5.1 M230.7 863.3v8.4 M237.1 863.3v5.1 M243.5 863.3v5.1 M249.9 863.3v5.1 M256.3 863.3v5.1 M262.7 863.3v8.4 M269.1 863.3v5.1 M275.4 863.3v5.1 M281.8 863.3v5.1 M288.2 863.3v5.1 M294.6 863.3v8.4 M301.0 863.3v5.1 M307.4 863.3v5.1 M313.8 863.3v5.1 M320.2 863.3v5.1 M326.6 863.3v8.4 M333.0 863.3v5.1 M339.4 863.3v5.1 M345.8 863.3v5.1 M352.2 863.3v5.1 M358.6 863.3v8.4 M364.9 863.3v5.1 M371.3 863.3v5.1 M377.7 863.3v5.1 M384.1 863.3v5.1 M390.5 863.3v8.4 M396.9 863.3v5.1 M403.3 863.3v5.1" stroke="#000" stroke-width="2.3" fill="none"/>
<g font-family="Liberation Serif, serif" font-size="16" text-anchor="middle" fill="#1a1a1a"><text x="70.9" y="887.1">320</text><text x="102.8" y="887.1">340</text><text x="134.8" y="887.1">360</text><text x="166.8" y="887.1">380</text><text x="198.7" y="887.1">400</text><text x="230.7" y="887.1">420</text><text x="262.7" y="887.1">440</text><text x="294.6" y="887.1">460</text><text x="326.6" y="887.1">480</text><text x="358.6" y="887.1">500</text><text x="390.5" y="887.1">520</text></g>
<g clip-path="url(#clip20)"><polyline points="55.3,830.8 57.2,839.3 59.2,832.1 60.9,821.2 62.1,832.6 63.3,846.5 64.5,837.8 65.7,827.2 66.9,830.6 68.1,832.1 69.3,836.3 70.5,836.9 71.7,831.0 72.9,828.4 74.2,834.3 75.4,842.9 76.6,835.0 77.8,830.8 79.5,842.9 81.4,827.2 82.6,825.0 83.8,826.8 85.0,824.8 86.2,813.2 87.4,805.5 88.6,797.2 89.9,788.6 91.5,776.5 93.5,795.8 94.9,796.1 96.4,799.4 98.3,791.0 100.0,803.1 101.9,793.4 103.1,787.5 104.3,783.7 105.6,777.3 106.8,773.4 108.0,765.6 109.9,778.9 111.1,775.9 112.3,771.7 114.0,774.1 115.2,765.5 116.4,762.0 117.6,758.4 118.8,755.3 120.0,754.8 121.3,753.1 122.5,747.5 123.7,747.9 124.9,746.7 126.1,743.9 127.3,748.0 128.5,748.7 129.7,744.0 130.9,739.0 132.1,730.6 133.6,742.4 135.0,751.1 137.0,740.3 138.2,731.8 139.4,725.8 140.6,734.2 141.8,739.1 143.0,732.3 144.2,725.8 145.4,733.7 146.6,739.1 147.8,706.4 149.0,711.6 150.2,716.1 151.4,710.1 152.7,704.1 153.9,699.2 155.8,727.0 157.2,718.8 158.7,711.3 159.9,707.9 161.1,704.5 162.3,704.0 163.5,708.1 164.7,708.9 165.9,697.7 167.1,683.5 168.4,700.5 169.6,712.5 170.8,707.4 172.0,700.7 173.2,694.4 175.1,724.6 176.8,708.9 178.0,705.7 179.2,698.1 180.4,695.6 181.6,692.5 182.9,687.2 184.1,683.5 185.3,687.9 186.5,695.6 187.7,691.0 188.9,689.5 190.1,694.5 191.3,699.2 192.5,691.9 193.7,687.1 194.9,683.9 196.1,681.1 197.8,695.6 199.4,691.9 201.0,687.1 202.2,673.3 203.4,660.6 204.6,667.1 205.8,677.5 207.0,676.8 208.2,676.3 210.0,692.0 211.9,684.7 213.6,699.2 214.8,693.0 216.0,689.5 217.2,694.2 218.5,701.6 219.7,700.0 220.9,701.6 222.1,692.5 223.3,684.7 224.5,682.5 225.7,684.7 226.9,683.1 228.1,679.9 229.3,684.7 230.5,684.7 231.7,681.7 232.9,679.9 234.2,693.2 235.4,678.0 236.6,660.6 237.8,665.2 239.0,665.4 240.2,673.9 241.4,687.1 242.6,679.2 243.8,675.0 245.0,678.5 246.2,678.7 247.4,685.9 248.6,689.5 249.9,686.6 251.1,682.3 253.0,710.1 254.7,672.6 256.4,701.6 258.3,696.8 259.5,687.8 260.7,682.3 261.9,695.1 263.1,708.9 264.3,707.6 265.6,704.4 266.8,699.2 268.0,708.0 269.2,713.7 270.7,719.4 272.3,728.2 273.5,724.6 274.7,717.3 275.9,717.9 277.1,719.7 278.6,733.5 280.0,745.1 281.3,743.8 282.5,746.3 283.7,757.2 284.9,748.8 286.1,735.4 287.3,731.7 288.5,727.0 289.7,720.3 290.9,711.3 292.1,723.1 293.3,737.9 294.5,752.3 295.7,765.6 297.0,764.8 298.2,763.2 299.4,763.7 300.6,763.2 302.3,754.8 303.5,750.4 304.7,747.5 306.3,741.4 307.8,733.0 309.0,721.3 310.2,711.3 311.9,727.0 313.9,720.9 315.1,701.2 316.3,683.5 317.5,684.2 318.7,688.3 319.9,712.8 321.1,735.4 322.3,738.2 323.5,745.1 324.7,754.5 325.9,766.8 327.1,765.8 328.4,769.3 329.6,788.1 330.8,805.5 332.0,816.6 333.2,827.2 334.4,833.3 335.6,818.4 336.8,803.1 338.0,794.0 339.2,789.8 340.4,793.7 341.6,798.2 342.9,804.1 344.1,811.5 345.3,817.3 346.5,827.2 348.0,833.7 349.6,845.3 351.1,841.9 352.5,833.3 353.7,825.9 354.9,822.4 356.4,814.7 357.8,809.1 359.0,815.8 360.2,824.8 361.8,835.6 363.4,845.3 365.1,827.2 366.3,828.0 367.5,833.3 369.4,838.1 370.6,835.5 371.8,833.3 373.0,836.2 374.3,840.5 375.5,839.2 376.7,834.5 377.9,836.7 379.1,844.1 380.3,841.5 381.5,840.5 382.7,841.1 383.9,836.9 385.1,835.8 386.3,834.3 387.5,834.1 388.7,832.1 390.0,834.6 391.2,836.9 392.4,842.9 393.6,838.1 394.8,833.3 396.0,833.0 397.2,828.4 398.4,828.5 399.6,826.0 400.8,830.8 402.0,838.1 403.2,840.3 404.4,840.5 405.7,835.7" fill="none" stroke="#000" stroke-width="1.8" stroke-linejoin="round"/></g>
<rect x="54.9" y="604.7" width="351.6" height="258.6" fill="none" stroke="#000" stroke-width="2.5"/>
<text x="17.3" y="628.3" font-family="Liberation Serif, serif" font-size="25.5" letter-spacing="-0.7" fill="#000">(e)</text>
<text transform="translate(36.2,735.0) rotate(-90)" text-anchor="middle" font-family="Liberation Serif, serif" font-size="22" fill="#111">Intensity (a.u.)</text>
<clipPath id="clip21"><rect x="456.2" y="604.7" width="351.6" height="258.6"/></clipPath>
<path d="M459.4 863.3v5.1 M465.8 863.3v5.1 M472.2 863.3v8.4 M478.6 863.3v5.1 M485.0 863.3v5.1 M491.4 863.3v5.1 M497.8 863.3v5.1 M504.1 863.3v8.4 M510.5 863.3v5.1 M516.9 863.3v5.1 M523.3 863.3v5.1 M529.7 863.3v5.1 M536.1 863.3v8.4 M542.5 863.3v5.1 M548.9 863.3v5.1 M555.3 863.3v5.1 M561.7 863.3v5.1 M568.1 863.3v8.4 M574.5 863.3v5.1 M580.9 863.3v5.1 M587.3 863.3v5.1 M593.6 863.3v5.1 M600.0 863.3v8.4 M606.4 863.3v5.1 M612.8 863.3v5.1 M619.2 863.3v5.1 M625.6 863.3v5.1 M632.0 863.3v8.4 M638.4 863.3v5.1 M644.8 863.3v5.1 M651.2 863.3v5.1 M657.6 863.3v5.1 M664.0 863.3v8.4 M670.4 863.3v5.1 M676.7 863.3v5.1 M683.1 863.3v5.1 M689.5 863.3v5.1 M695.9 863.3v8.4 M702.3 863.3v5.1 M708.7 863.3v5.1 M715.1 863.3v5.1 M721.5 863.3v5.1 M727.9 863.3v8.4 M734.3 863.3v5.1 M740.7 863.3v5.1 M747.1 863.3v5.1 M753.5 863.3v5.1 M759.9 863.3v8.4 M766.2 863.3v5.1 M772.6 863.3v5.1 M779.0 863.3v5.1 M785.4 863.3v5.1 M791.8 863.3v8.4 M798.2 863.3v5.1 M804.6 863.3v5.1" stroke="#000" stroke-width="2.3" fill="none"/>
<g font-family="Liberation Serif, serif" font-size="16" text-anchor="middle" fill="#1a1a1a"><text x="472.2" y="887.1">320</text><text x="504.1" y="887.1">340</text><text x="536.1" y="887.1">360</text><text x="568.1" y="887.1">380</text><text x="600.0" y="887.1">400</text><text x="632.0" y="887.1">420</text><text x="664.0" y="887.1">440</text><text x="695.9" y="887.1">460</text><text x="727.9" y="887.1">480</text><text x="759.9" y="887.1">500</text><text x="791.8" y="887.1">520</text></g>
<g clip-path="url(#clip21)"><polyline points="456.2,837.5 460.2,835.7 464.2,833.6 468.2,831.1 471.7,828.6 475.2,825.7 478.7,822.6 482.2,819.0 485.7,815.1 489.2,810.8 493.2,805.5 497.2,799.7 501.2,793.4 504.7,787.7 508.7,780.9 522.7,755.8 528.2,746.3 533.7,737.5 536.2,733.9 538.7,730.4 541.7,726.7 544.7,723.4 547.7,720.6 550.2,718.7 551.7,717.7 553.2,716.9 555.7,715.8 557.2,715.4 558.7,715.1 561.2,715.0 563.2,715.2 565.7,715.8 568.2,716.9 570.7,718.4 573.2,720.2 575.7,722.4 578.2,725.0 580.7,727.9 583.2,731.1 585.7,734.6 588.2,738.3 591.2,743.0 597.2,753.2 610.7,777.3 616.7,787.7 620.2,793.4 623.2,798.1 626.2,802.6 629.2,806.8 633.2,812.1 636.7,816.2 640.2,820.1 643.7,823.5 647.2,826.6 651.2,829.7 655.2,832.4 659.2,834.7 663.2,836.6 667.2,838.3 671.7,839.8 676.2,841.0 681.2,842.1 686.2,842.9 691.7,843.5 697.7,844.0 709.7,844.6 726.2,844.9 748.7,845.0 807.7,845.0" fill="none" stroke="#6f00b3" stroke-width="3" stroke-linejoin="round"/><polyline points="456.2,845.0 528.2,845.0 543.2,844.8 549.7,844.4 554.7,843.7 558.7,842.7 560.7,842.0 562.7,841.2 564.7,840.1 566.7,838.9 568.7,837.3 570.2,836.0 572.2,833.9 573.7,832.2 576.7,828.1 578.2,825.7 580.2,822.3 583.7,815.6 587.2,808.1 595.7,788.9 598.2,783.8 600.2,780.1 602.7,776.3 604.2,774.4 605.2,773.4 606.7,772.2 607.7,771.6 609.2,771.1 610.2,771.0 611.2,771.1 612.7,771.6 613.7,772.2 615.2,773.4 616.2,774.4 617.7,776.3 620.2,780.1 622.2,783.8 624.7,788.9 633.7,809.2 637.2,816.6 640.7,823.2 642.7,826.5 644.2,828.8 645.7,830.9 647.7,833.4 649.7,835.5 651.7,837.3 653.7,838.9 655.7,840.1 657.7,841.2 659.7,842.0 661.7,842.7 663.7,843.3 668.2,844.1 673.7,844.6 680.7,844.9 697.2,845.0 807.7,845.0" fill="none" stroke="#ff00ff" stroke-width="3" stroke-linejoin="round"/><polyline points="456.2,845.0 562.7,845.0 572.7,844.9 579.2,844.8 583.2,844.6 586.2,844.3 589.2,843.9 591.7,843.4 594.2,842.7 596.2,841.9 598.2,840.9 600.2,839.7 602.2,838.3 604.2,836.4 606.2,834.2 608.2,831.6 610.2,828.5 612.2,824.8 614.2,820.6 615.7,817.1 617.2,813.3 619.2,807.6 621.2,801.4 623.2,794.6 627.2,779.8 636.2,744.3 638.7,735.4 640.7,729.0 642.2,724.8 643.7,721.1 645.2,718.1 646.2,716.4 647.7,714.4 648.7,713.5 649.7,712.9 650.2,712.7 651.2,712.6 652.2,712.8 652.7,713.1 653.7,713.8 654.7,714.8 656.2,717.0 657.2,718.8 658.7,722.1 659.7,724.6 661.2,728.7 663.7,736.8 666.2,745.8 674.7,779.4 678.2,792.5 681.7,804.2 683.7,810.2 685.2,814.3 686.7,818.1 688.7,822.6 690.2,825.6 692.2,829.1 693.7,831.4 695.7,834.1 697.7,836.3 699.7,838.2 701.7,839.7 703.7,840.9 705.7,841.9 708.2,842.8 710.7,843.5 713.2,843.9 716.2,844.3 719.7,844.6 725.7,844.9 735.2,845.0 807.7,845.0" fill="none" stroke="#0000ff" stroke-width="3" stroke-linejoin="round"/><polyline points="456.2,845.0 625.7,844.9 632.7,844.8 637.7,844.4 640.2,844.0 642.2,843.7 645.7,842.6 648.2,841.6 650.2,840.4 652.2,839.0 654.2,837.2 656.2,835.0 657.7,833.1 659.7,830.1 661.2,827.5 662.7,824.7 664.7,820.4 666.2,816.9 668.2,811.8 671.2,803.4 679.2,779.7 681.2,774.3 683.2,769.5 684.7,766.3 685.7,764.5 686.7,762.9 687.7,761.5 689.2,760.0 690.2,759.3 691.2,758.9 692.2,758.8 693.2,759.0 694.2,759.4 695.2,760.2 696.7,761.8 697.7,763.2 698.7,764.9 699.7,766.7 701.2,769.9 703.2,774.8 705.2,780.3 712.7,802.6 715.7,811.0 718.7,818.6 721.7,825.1 724.2,829.6 725.7,831.9 727.2,834.0 729.7,836.9 731.2,838.3 732.7,839.5 734.2,840.5 736.2,841.7 737.7,842.3 739.7,843.0 741.7,843.6 744.2,844.1 749.2,844.6 754.2,844.9 761.7,845.0 807.7,845.0" fill="none" stroke="#00ffff" stroke-width="3" stroke-linejoin="round"/><polyline points="456.2,845.0 687.7,845.0 691.2,845.0 693.7,844.8 695.2,844.6 696.7,844.2 698.2,843.4 699.7,842.1 700.7,840.8 701.7,838.9 702.7,836.5 703.7,833.3 705.2,827.0 706.7,818.5 708.2,808.0 709.7,795.7 712.7,769.3 714.2,757.8 715.2,751.8 716.2,747.4 716.7,746.0 717.2,745.1 717.7,744.7 718.2,744.9 718.7,745.6 719.2,746.8 720.2,750.8 721.2,756.5 722.7,767.6 727.2,806.4 728.7,817.2 730.2,826.0 731.7,832.6 733.2,837.3 733.7,838.5 734.7,840.4 735.2,841.2 736.2,842.4 737.7,843.6 739.2,844.3 741.2,844.7 743.7,844.9 749.7,845.0 807.7,845.0" fill="none" stroke="#008080" stroke-width="3" stroke-linejoin="round"/><polyline points="456.2,845.0 625.7,845.0 644.7,844.7 651.7,844.5 657.7,844.1 664.2,843.5 670.2,842.7 675.7,841.8 681.2,840.5 686.7,839.0 692.7,837.0 698.2,835.0 711.7,829.8 715.7,828.4 719.2,827.3 723.2,826.2 727.2,825.4 731.2,825.0 734.7,824.8 738.2,824.9 741.7,825.3 745.2,825.9 748.7,826.7 752.2,827.7 756.2,829.0 775.2,836.3 780.2,838.0 784.7,839.4 790.2,840.9 795.7,842.0 801.7,843.0 807.7,843.7" fill="none" stroke="#00ff00" stroke-width="3" stroke-linejoin="round"/><polyline points="456.2,837.5 460.7,835.5 465.2,833.0 469.2,830.4 473.2,827.4 477.2,824.0 481.2,820.1 485.2,815.7 489.2,810.8 492.7,806.2 496.2,801.1 499.7,795.8 503.2,790.2 510.2,778.2 525.7,750.6 529.7,743.8 533.7,737.5 537.7,731.7 541.7,726.5 543.7,724.2 545.7,722.1 547.7,720.2 549.7,718.4 551.7,716.9 553.7,715.5 555.7,714.4 558.2,713.1 560.2,712.2 562.7,711.3 570.2,709.0 573.2,707.9 576.2,706.6 579.2,705.0 582.2,703.0 585.2,700.7 587.7,698.6 594.2,692.8 597.2,690.4 600.2,688.4 601.7,687.6 603.2,686.9 604.7,686.4 606.2,686.1 607.7,685.9 609.7,685.9 612.7,686.3 618.7,687.8 621.2,688.2 623.7,688.5 626.2,688.3 628.7,687.7 631.2,686.7 633.7,685.4 638.7,682.6 640.7,681.6 642.2,681.1 643.2,680.8 645.2,680.6 646.2,680.8 647.2,681.0 648.2,681.4 649.2,681.9 651.2,683.4 653.2,685.5 655.2,688.1 657.2,691.2 659.7,695.6 664.7,705.0 667.2,709.4 669.7,713.5 671.7,716.3 674.2,719.2 676.7,721.5 679.2,723.3 685.7,727.2 687.7,728.7 689.7,730.6 691.2,732.3 693.2,735.1 694.7,737.4 698.2,743.3 699.7,745.6 700.7,746.8 701.2,747.3 702.2,747.9 702.7,747.9 703.2,747.9 703.7,747.6 704.2,747.1 704.7,746.5 705.7,744.5 706.7,741.6 707.7,737.8 708.7,733.1 709.7,727.6 712.7,709.8 714.2,702.4 715.2,698.9 715.7,697.8 716.2,697.1 716.7,696.8 717.2,697.1 717.7,697.9 718.2,699.1 718.7,700.9 719.7,706.0 720.7,712.8 721.7,721.1 722.7,730.6 725.7,761.3 727.2,775.7 728.7,788.1 729.7,795.1 731.2,803.7 732.7,810.2 734.2,814.8 735.2,817.1 736.2,818.8 737.2,820.2 738.7,821.7 740.2,822.8 742.2,823.8 745.2,825.0 756.7,829.1 771.7,835.0 777.7,837.2 785.2,839.6 792.2,841.3 799.7,842.7 807.7,843.7" fill="none" stroke="#ff0000" stroke-width="3.2" stroke-linejoin="round"/><polyline points="456.6,830.8 458.5,839.3 460.5,832.1 462.2,821.2 463.4,832.6 464.6,846.5 465.8,837.8 467.0,827.2 468.2,830.6 469.4,832.1 470.6,836.3 471.8,836.9 473.0,831.0 474.2,828.4 475.5,834.3 476.7,842.9 477.9,835.0 479.1,830.8 480.8,842.9 482.7,827.2 483.9,825.0 485.1,826.8 486.3,824.8 487.5,813.2 488.7,805.5 489.9,797.2 491.2,788.6 492.8,776.5 494.8,795.8 496.2,796.1 497.7,799.4 499.6,791.0 501.3,803.1 503.2,793.4 504.4,787.5 505.6,783.7 506.9,777.3 508.1,773.4 509.3,765.6 511.2,778.9 512.4,775.9 513.6,771.7 515.3,774.1 516.5,765.5 517.7,762.0 518.9,758.4 520.1,755.3 521.3,754.8 522.6,753.1 523.8,747.5 525.0,747.9 526.2,746.7 527.4,743.9 528.6,748.0 529.8,748.7 531.0,744.0 532.2,739.0 533.4,730.6 534.9,742.4 536.3,751.1 538.3,740.3 539.5,731.8 540.7,725.8 541.9,734.2 543.1,739.1 544.3,732.3 545.5,725.8 546.7,733.7 547.9,739.1 549.1,706.4 550.3,711.6 551.5,716.1 552.7,710.1 554.0,704.1 555.2,699.2 557.1,727.0 558.5,718.8 560.0,711.3 561.2,707.9 562.4,704.5 563.6,704.0 564.8,708.1 566.0,708.9 567.2,697.7 568.4,683.5 569.7,700.5 570.9,712.5 572.1,707.4 573.3,700.7 574.5,694.4 576.4,724.6 578.1,708.9 579.3,705.7 580.5,698.1 581.7,695.6 582.9,692.5 584.2,687.2 585.4,683.5 586.6,687.9 587.8,695.6 589.0,691.0 590.2,689.5 591.4,694.5 592.6,699.2 593.8,691.9 595.0,687.1 596.2,683.9 597.4,681.1 599.1,695.6 600.7,691.9 602.3,687.1 603.5,673.3 604.7,660.6 605.9,667.1 607.1,677.5 608.3,676.8 609.5,676.3 611.3,692.0 613.2,684.7 614.9,699.2 616.1,693.0 617.3,689.5 618.5,694.2 619.8,701.6 621.0,700.0 622.2,701.6 623.4,692.5 624.6,684.7 625.8,682.5 627.0,684.7 628.2,683.1 629.4,679.9 630.6,684.7 631.8,684.7 633.0,681.7 634.2,679.9 635.5,693.2 636.7,678.0 637.9,660.6 639.1,665.2 640.3,665.4 641.5,673.9 642.7,687.1 643.9,679.2 645.1,675.0 646.3,678.5 647.5,678.7 648.7,685.9 649.9,689.5 651.2,686.6 652.4,682.3 654.3,710.1 656.0,672.6 657.7,701.6 659.6,696.8 660.8,687.8 662.0,682.3 663.2,695.1 664.4,708.9 665.6,707.6 666.9,704.4 668.1,699.2 669.3,708.0 670.5,713.7 672.0,719.4 673.6,728.2 674.8,724.6 676.0,717.3 677.2,717.9 678.4,719.7 679.9,733.5 681.3,745.1 682.6,743.8 683.8,746.3 685.0,757.2 686.2,748.8 687.4,735.4 688.6,731.7 689.8,727.0 691.0,720.3 692.2,711.3 693.4,723.1 694.6,737.9 695.8,752.3 697.0,765.6 698.3,764.8 699.5,763.2 700.7,763.7 701.9,763.2 703.6,754.8 704.8,750.4 706.0,747.5 707.6,741.4 709.1,733.0 710.3,721.3 711.5,711.3 713.2,727.0 715.2,720.9 716.4,701.2 717.6,683.5 718.8,684.2 720.0,688.3 721.2,712.8 722.4,735.4 723.6,738.2 724.8,745.1 726.0,754.5 727.2,766.8 728.4,765.8 729.7,769.3 730.9,788.1 732.1,805.5 733.3,816.6 734.5,827.2 735.7,833.3 736.9,818.4 738.1,803.1 739.3,794.0 740.5,789.8 741.7,793.7 742.9,798.2 744.2,804.1 745.4,811.5 746.6,817.3 747.8,827.2 749.3,833.7 750.9,845.3 752.4,841.9 753.8,833.3 755.0,825.9 756.2,822.4 757.7,814.7 759.1,809.1 760.3,815.8 761.5,824.8 763.1,835.6 764.7,845.3 766.4,827.2 767.6,828.0 768.8,833.3 770.7,838.1 771.9,835.5 773.1,833.3 774.3,836.2 775.6,840.5 776.8,839.2 778.0,834.5 779.2,836.7 780.4,844.1 781.6,841.5 782.8,840.5 784.0,841.1 785.2,836.9 786.4,835.8 787.6,834.3 788.8,834.1 790.0,832.1 791.3,834.6 792.5,836.9 793.7,842.9 794.9,838.1 796.1,833.3 797.3,833.0 798.5,828.4 799.7,828.5 800.9,826.0 802.1,830.8 803.3,838.1 804.5,840.3 805.7,840.5 807.0,835.7" fill="none" stroke="#000" stroke-width="1.8" stroke-linejoin="round"/></g>
<rect x="456.2" y="604.7" width="351.6" height="258.6" fill="none" stroke="#000" stroke-width="2.5"/>
<rect x="465.5" y="611.3" width="75.0" height="116.4" fill="none" stroke="#000" stroke-width="2"/>
<line x1="472.7" y1="622.6" x2="497.3" y2="622.6" stroke="#6f00b3" stroke-width="2.7" stroke-linecap="round"/>
<line x1="472.7" y1="636.3" x2="497.3" y2="636.3" stroke="#ff00ff" stroke-width="2.7" stroke-linecap="round"/>
<line x1="472.7" y1="650.0" x2="497.3" y2="650.0" stroke="#0000ff" stroke-width="2.7" stroke-linecap="round"/>
<line x1="472.7" y1="663.7" x2="497.3" y2="663.7" stroke="#00ffff" stroke-width="2.7" stroke-linecap="round"/>
<line x1="472.7" y1="677.4" x2="497.3" y2="677.4" stroke="#008080" stroke-width="2.7" stroke-linecap="round"/>
<line x1="472.7" y1="691.1" x2="497.3" y2="691.1" stroke="#00ff00" stroke-width="2.7" stroke-linecap="round"/>
<line x1="472.7" y1="704.8" x2="497.3" y2="704.8" stroke="#ff0000" stroke-width="2.7" stroke-linecap="round"/>
<g font-family="Liberation Serif, serif" font-size="7" fill="#3a3a3a"><text x="502.8" y="625.9">376 nm</text><text x="502.8" y="639.6">406 nm</text><text x="502.8" y="653.3">432 nm</text><text x="502.8" y="667.0">456 nm</text><text x="502.8" y="680.7">474 nm</text><text x="502.8" y="694.4">489 nm</text><text x="502.8" y="708.1">Cumulative</text><text x="504.3" y="721.8">Fit Peak</text></g>
<text x="420.8" y="630.1" font-family="Liberation Serif, serif" font-size="25.5" letter-spacing="-0.7" fill="#000">(f)</text>
<text transform="translate(439.1,735.0) rotate(-90)" text-anchor="middle" font-family="Liberation Serif, serif" font-size="22" fill="#111">Intensity (a.u.)</text>
<clipPath id="clip30"><rect x="54.9" y="901.6" width="351.6" height="259.0"/></clipPath>
<path d="M58.1 1160.6v5.1 M64.5 1160.6v5.1 M70.9 1160.6v8.4 M77.3 1160.6v5.1 M83.7 1160.6v5.1 M90.1 1160.6v5.1 M96.5 1160.6v5.1 M102.8 1160.6v8.4 M109.2 1160.6v5.1 M115.6 1160.6v5.1 M122.0 1160.6v5.1 M128.4 1160.6v5.1 M134.8 1160.6v8.4 M141.2 1160.6v5.1 M147.6 1160.6v5.1 M154.0 1160.6v5.1 M160.4 1160.6v5.1 M166.8 1160.6v8.4 M173.2 1160.6v5.1 M179.6 1160.6v5.1 M186.0 1160.6v5.1 M192.3 1160.6v5.1 M198.7 1160.6v8.4 M205.1 1160.6v5.1 M211.5 1160.6v5.1 M217.9 1160.6v5.1 M224.3 1160.6v5.1 M230.7 1160.6v8.4 M237.1 1160.6v5.1 M243.5 1160.6v5.1 M249.9 1160.6v5.1 M256.3 1160.6v5.1 M262.7 1160.6v8.4 M269.1 1160.6v5.1 M275.4 1160.6v5.1 M281.8 1160.6v5.1 M288.2 1160.6v5.1 M294.6 1160.6v8.4 M301.0 1160.6v5.1 M307.4 1160.6v5.1 M313.8 1160.6v5.1 M320.2 1160.6v5.1 M326.6 1160.6v8.4 M333.0 1160.6v5.1 M339.4 1160.6v5.1 M345.8 1160.6v5.1 M352.2 1160.6v5.1 M358.6 1160.6v8.4 M364.9 1160.6v5.1 M371.3 1160.6v5.1 M377.7 1160.6v5.1 M384.1 1160.6v5.1 M390.5 1160.6v8.4 M396.9 1160.6v5.1 M403.3 1160.6v5.1" stroke="#000" stroke-width="2.3" fill="none"/>
<g font-family="Liberation Serif, serif" font-size="16" text-anchor="middle" fill="#1a1a1a"><text x="70.9" y="1184.4">300</text><text x="102.8" y="1184.4">320</text><text x="134.8" y="1184.4">340</text><text x="166.8" y="1184.4">360</text><text x="198.7" y="1184.4">380</text><text x="230.7" y="1184.4">400</text><text x="262.7" y="1184.4">420</text><text x="294.6" y="1184.4">440</text><text x="326.6" y="1184.4">460</text><text x="358.6" y="1184.4">480</text><text x="390.5" y="1184.4">500</text></g>
<g clip-path="url(#clip30)"><polyline points="55.3,1133.9 57.2,1130.3 58.5,1123.4 59.7,1120.6 60.9,1122.5 62.1,1123.0 63.3,1123.0 64.5,1120.5 65.7,1113.4 66.9,1116.4 68.1,1121.8 69.3,1124.8 70.5,1130.3 71.7,1133.9 72.9,1135.1 74.2,1130.5 75.4,1124.2 76.6,1121.4 77.8,1120.6 79.0,1125.2 80.2,1127.8 81.4,1125.5 82.6,1124.2 83.8,1122.0 85.0,1117.0 86.2,1122.2 87.4,1131.5 88.6,1121.0 89.9,1113.4 91.1,1118.5 92.3,1119.4 93.5,1125.9 94.7,1133.9 95.9,1120.6 97.1,1129.0 98.3,1139.9 99.5,1113.4 100.7,1120.4 101.9,1124.2 103.1,1113.4 104.3,1118.3 105.6,1121.8 106.8,1115.2 108.0,1112.4 109.2,1107.3 110.4,1113.8 111.6,1116.8 112.8,1124.2 114.0,1117.2 115.2,1108.5 116.4,1098.1 117.6,1091.6 118.8,1093.2 120.0,1096.4 121.3,1094.9 122.5,1097.7 123.9,1085.8 125.4,1077.1 126.9,1090.5 128.5,1098.9 129.7,1090.5 130.9,1083.2 132.1,1088.1 133.3,1088.0 134.5,1082.8 135.7,1078.3 137.0,1069.2 138.2,1059.0 139.7,1067.6 141.3,1072.3 142.5,1064.8 143.7,1055.4 145.1,1053.0 146.5,1055.0 147.8,1054.2 149.0,1047.0 150.2,1038.5 151.4,1044.7 152.7,1054.2 154.2,1033.3 155.8,1016.7 157.0,1028.3 158.2,1036.1 159.4,1034.9 160.6,1033.6 161.8,1023.0 163.0,1015.5 164.3,1021.3 165.5,1027.6 167.1,1010.7 168.4,1003.8 169.6,999.8 170.8,1002.6 172.0,1002.2 173.6,996.2 175.1,990.2 176.6,989.9 178.0,993.8 179.6,1002.7 181.2,1008.3 182.2,997.7 183.3,991.4 184.5,986.0 185.7,982.9 187.3,988.3 188.9,998.6 190.1,986.5 191.3,990.8 192.5,992.6 194.0,977.9 195.4,967.2 197.0,977.0 198.6,986.5 199.8,985.0 201.0,987.7 202.2,1002.1 203.4,1016.7 204.6,1000.2 205.8,981.7 207.0,979.5 208.2,976.6 209.4,974.5 210.0,974.5 211.2,989.0 212.9,980.5 214.5,987.1 216.0,993.8 217.2,991.0 218.5,989.0 219.7,984.0 220.9,978.1 222.1,980.2 223.3,986.5 224.5,990.0 225.7,993.8 226.9,984.0 228.1,976.9 229.3,975.8 230.5,970.8 231.7,974.9 232.9,974.5 234.2,969.6 236.1,956.3 237.3,955.9 238.5,960.0 240.2,964.8 241.9,998.6 243.8,985.3 245.7,993.8 247.4,1005.9 248.6,1005.8 249.9,1009.5 251.1,1008.1 252.3,1004.7 253.5,1002.0 254.7,998.6 256.4,990.2 258.3,985.3 259.5,979.8 260.7,979.3 262.7,984.1 264.3,1001.0 266.0,976.9 268.0,985.3 269.2,987.0 270.4,986.5 272.3,967.2 274.0,960.0 275.7,974.5 277.6,989.0 278.8,987.0 280.0,980.5 282.0,986.5 282.9,1003.4 284.9,962.4 286.1,1015.5 287.8,981.7 289.7,993.8 290.9,992.8 292.1,992.6 293.3,999.6 294.5,1008.3 296.5,1005.9 297.7,1016.5 298.9,1026.4 300.1,1024.5 301.3,1017.9 302.5,1016.7 303.7,1017.9 304.9,1029.0 306.1,1042.1 307.8,1049.3 309.0,1048.9 310.2,1051.8 311.4,1060.1 312.7,1066.9 313.9,1074.7 315.1,1064.4 316.3,1056.6 317.5,1054.8 318.7,1054.2 320.3,1035.5 321.8,1021.6 322.9,1032.1 324.0,1044.5 325.9,1059.0 327.1,1082.0 328.4,1062.6 329.8,1082.0 330.9,1077.8 332.0,1068.7 333.7,1071.1 335.1,1085.6 336.8,1066.3 338.0,1066.7 339.2,1066.3 340.4,1058.5 341.6,1053.0 343.2,1052.2 344.8,1046.9 346.2,1036.5 347.7,1027.6 349.1,1011.2 350.6,997.4 352.5,1027.6 353.7,1031.2 354.9,1039.7 356.1,1048.7 357.3,1061.4 359.3,1085.6 361.0,1126.6 362.7,1131.5 363.9,1133.5 365.1,1138.7 366.3,1126.4 367.5,1117.0 369.1,1114.7 370.6,1108.5 371.8,1106.7 373.0,1107.3 374.7,1092.8 376.7,1114.6 378.6,1131.5 380.5,1139.9 382.0,1130.3 383.6,1127.7 385.1,1127.8 386.3,1121.9 387.5,1117.1 388.7,1108.5 390.0,1112.9 391.2,1119.4 392.4,1126.8 393.6,1130.8 394.8,1137.5 396.0,1141.4 397.2,1145.3 398.4,1148.4 399.6,1148.3 400.8,1143.5 402.0,1145.5 403.2,1144.8 404.4,1139.4 405.7,1133.9" fill="none" stroke="#000" stroke-width="1.8" stroke-linejoin="round"/></g>
<rect x="54.9" y="901.6" width="351.6" height="259.0" fill="none" stroke="#000" stroke-width="2.5"/>
<text x="16.7" y="924.7" font-family="Liberation Serif, serif" font-size="25.5" letter-spacing="-0.7" fill="#000">(g)</text>
<text transform="translate(34.8,1044.0) rotate(-90)" text-anchor="middle" font-family="Liberation Serif, serif" font-size="22" fill="#111">Intensity (a.u.)</text>
<clipPath id="clip31"><rect x="456.2" y="901.6" width="351.6" height="259.0"/></clipPath>
<path d="M459.4 1160.6v5.1 M465.8 1160.6v5.1 M472.2 1160.6v8.4 M478.6 1160.6v5.1 M485.0 1160.6v5.1 M491.4 1160.6v5.1 M497.8 1160.6v5.1 M504.1 1160.6v8.4 M510.5 1160.6v5.1 M516.9 1160.6v5.1 M523.3 1160.6v5.1 M529.7 1160.6v5.1 M536.1 1160.6v8.4 M542.5 1160.6v5.1 M548.9 1160.6v5.1 M555.3 1160.6v5.1 M561.7 1160.6v5.1 M568.1 1160.6v8.4 M574.5 1160.6v5.1 M580.9 1160.6v5.1 M587.3 1160.6v5.1 M593.6 1160.6v5.1 M600.0 1160.6v8.4 M606.4 1160.6v5.1 M612.8 1160.6v5.1 M619.2 1160.6v5.1 M625.6 1160.6v5.1 M632.0 1160.6v8.4 M638.4 1160.6v5.1 M644.8 1160.6v5.1 M651.2 1160.6v5.1 M657.6 1160.6v5.1 M664.0 1160.6v8.4 M670.4 1160.6v5.1 M676.7 1160.6v5.1 M683.1 1160.6v5.1 M689.5 1160.6v5.1 M695.9 1160.6v8.4 M702.3 1160.6v5.1 M708.7 1160.6v5.1 M715.1 1160.6v5.1 M721.5 1160.6v5.1 M727.9 1160.6v8.4 M734.3 1160.6v5.1 M740.7 1160.6v5.1 M747.1 1160.6v5.1 M753.5 1160.6v5.1 M759.9 1160.6v8.4 M766.2 1160.6v5.1 M772.6 1160.6v5.1 M779.0 1160.6v5.1 M785.4 1160.6v5.1 M791.8 1160.6v8.4 M798.2 1160.6v5.1 M804.6 1160.6v5.1" stroke="#000" stroke-width="2.3" fill="none"/>
<g font-family="Liberation Serif, serif" font-size="16" text-anchor="middle" fill="#1a1a1a"><text x="472.2" y="1184.4">300</text><text x="504.1" y="1184.4">320</text><text x="536.1" y="1184.4">340</text><text x="568.1" y="1184.4">360</text><text x="600.0" y="1184.4">380</text><text x="632.0" y="1184.4">400</text><text x="664.0" y="1184.4">420</text><text x="695.9" y="1184.4">440</text><text x="727.9" y="1184.4">460</text><text x="759.9" y="1184.4">480</text><text x="791.8" y="1184.4">500</text></g>
<g clip-path="url(#clip31)"><polyline points="456.2,1140.2 460.7,1139.6 464.7,1138.9 468.7,1138.1 472.2,1137.3 475.7,1136.3 479.2,1135.1 482.7,1133.7 485.7,1132.3 488.7,1130.8 491.7,1129.1 494.7,1127.1 497.7,1125.0 500.7,1122.6 503.2,1120.4 506.2,1117.5 508.7,1114.9 511.2,1112.2 513.7,1109.2 518.7,1102.7 523.7,1095.5 529.2,1086.7 534.2,1078.0 539.2,1068.8 555.2,1037.8 561.2,1026.5 564.2,1021.2 567.2,1016.1 570.2,1011.3 572.7,1007.7 575.7,1003.6 578.7,1000.0 581.7,997.0 584.7,994.4 586.2,993.4 587.7,992.5 589.2,991.7 590.7,991.1 592.2,990.6 593.7,990.3 596.2,990.1 598.7,990.4 601.2,991.0 603.7,992.1 605.2,993.0 606.7,994.0 609.2,996.0 612.2,998.9 615.2,1002.3 618.2,1006.1 620.7,1009.7 623.7,1014.3 626.7,1019.3 629.7,1024.5 635.7,1035.7 649.2,1062.0 655.2,1073.3 661.7,1084.8 664.7,1089.8 667.7,1094.6 671.2,1099.8 674.7,1104.6 678.2,1109.1 681.7,1113.2 685.2,1116.9 688.7,1120.3 692.2,1123.3 695.7,1126.0 699.7,1128.7 703.7,1131.0 707.7,1133.0 712.2,1134.9 716.7,1136.4 721.2,1137.6 726.2,1138.7 731.7,1139.6 737.2,1140.3 743.2,1140.9 749.7,1141.3 757.2,1141.6 775.7,1141.9 807.7,1142.0" fill="none" stroke="#6f00b3" stroke-width="3" stroke-linejoin="round"/><polyline points="456.2,1142.0 579.2,1141.9 585.2,1141.8 589.7,1141.5 593.7,1141.0 596.7,1140.4 598.7,1139.7 600.2,1139.2 602.2,1138.2 603.7,1137.3 605.7,1135.9 607.2,1134.7 608.7,1133.3 610.2,1131.7 613.2,1127.9 616.2,1123.4 619.2,1118.3 626.2,1105.7 628.2,1102.4 630.2,1099.5 632.2,1097.1 634.2,1095.3 635.2,1094.6 636.2,1094.1 637.2,1093.8 638.2,1093.7 639.2,1093.8 640.2,1094.0 641.2,1094.5 642.2,1095.1 643.2,1095.9 644.2,1096.9 646.2,1099.2 648.2,1102.1 650.2,1105.4 657.2,1118.0 660.2,1123.1 663.2,1127.6 666.2,1131.4 667.7,1133.1 669.2,1134.5 670.7,1135.8 672.2,1136.9 673.7,1137.8 675.7,1138.9 677.2,1139.5 679.2,1140.2 682.7,1141.0 686.2,1141.5 690.7,1141.8 696.7,1141.9 807.7,1142.0" fill="none" stroke="#ff00ff" stroke-width="3" stroke-linejoin="round"/><polyline points="456.2,1142.0 591.7,1142.0 608.7,1141.9 616.2,1141.5 619.2,1141.1 621.7,1140.7 624.2,1140.1 626.7,1139.3 628.7,1138.5 630.7,1137.4 633.2,1135.7 635.2,1133.9 637.7,1131.2 639.7,1128.5 641.7,1125.4 643.7,1121.7 645.7,1117.4 647.2,1113.8 648.7,1109.8 650.7,1104.1 652.7,1097.7 654.7,1090.8 658.7,1075.6 667.2,1041.5 669.7,1032.4 672.2,1024.3 673.7,1020.1 674.7,1017.6 676.2,1014.4 677.2,1012.6 678.7,1010.6 679.7,1009.6 680.7,1008.9 681.2,1008.7 682.2,1008.6 683.2,1008.8 683.7,1009.0 684.7,1009.7 685.7,1010.8 687.2,1013.0 688.2,1014.8 689.7,1018.1 690.7,1020.6 692.2,1024.9 694.7,1033.1 697.2,1042.3 705.7,1076.4 709.2,1089.7 712.7,1101.6 715.7,1110.4 717.2,1114.3 718.7,1117.8 720.2,1121.1 721.7,1123.9 723.2,1126.5 724.7,1128.8 726.2,1130.8 728.2,1133.1 730.2,1135.0 732.2,1136.6 734.2,1137.8 736.2,1138.8 738.2,1139.6 740.7,1140.3 743.2,1140.9 746.2,1141.3 752.2,1141.7 760.2,1141.9 807.7,1142.0" fill="none" stroke="#0000ff" stroke-width="3" stroke-linejoin="round"/><polyline points="456.2,1142.0 662.2,1142.0 669.2,1141.9 674.2,1141.6 678.2,1141.2 681.7,1140.5 684.2,1139.8 686.2,1139.0 688.2,1138.0 690.2,1136.7 692.2,1135.0 694.2,1133.1 696.2,1130.7 697.7,1128.7 699.2,1126.4 700.7,1123.9 702.2,1121.1 704.2,1117.1 707.7,1109.3 715.2,1091.3 717.2,1087.0 719.2,1083.1 720.7,1080.7 721.7,1079.2 722.7,1078.0 723.7,1077.0 724.7,1076.2 725.7,1075.7 726.7,1075.4 727.7,1075.3 729.2,1075.6 730.2,1076.2 731.2,1076.9 732.2,1077.9 733.2,1079.1 735.2,1082.1 737.2,1085.8 739.2,1090.0 741.2,1094.6 748.7,1112.5 751.2,1117.9 753.2,1121.9 755.7,1126.2 758.2,1129.9 760.7,1133.0 762.2,1134.5 763.7,1135.8 765.2,1136.9 766.7,1137.9 768.2,1138.7 769.7,1139.4 771.2,1139.9 773.2,1140.5 777.2,1141.2 781.2,1141.6 786.7,1141.9 807.7,1142.0" fill="none" stroke="#00ffff" stroke-width="3" stroke-linejoin="round"/><polyline points="456.2,1142.0 725.2,1142.0 730.7,1141.9 732.2,1141.6 733.2,1141.4 734.7,1140.6 735.7,1139.7 736.7,1138.3 737.7,1136.3 738.7,1133.5 739.2,1131.7 740.2,1127.2 740.7,1124.5 741.7,1118.0 743.2,1105.7 744.7,1090.8 747.2,1064.2 748.7,1050.7 749.7,1044.3 750.2,1042.1 750.7,1040.7 751.2,1040.0 751.7,1040.0 752.2,1040.9 752.7,1042.5 753.2,1044.9 754.2,1051.5 755.7,1065.2 759.2,1102.0 760.2,1111.0 761.2,1118.7 762.2,1125.0 763.2,1130.0 764.2,1133.8 764.7,1135.3 765.7,1137.6 766.7,1139.2 767.2,1139.8 768.2,1140.7 769.7,1141.4 771.7,1141.8 773.7,1142.0 776.7,1142.0 807.7,1142.0" fill="none" stroke="#008080" stroke-width="3" stroke-linejoin="round"/><polyline points="456.2,1142.0 705.2,1142.0 717.7,1141.9 725.7,1141.7 730.7,1141.3 735.2,1140.7 739.2,1139.9 742.7,1138.9 746.2,1137.6 749.7,1136.1 753.2,1134.2 760.7,1130.1 764.7,1128.2 767.2,1127.3 769.2,1126.8 771.2,1126.4 773.2,1126.3 775.2,1126.4 777.2,1126.7 779.2,1127.2 781.7,1128.1 785.7,1129.9 794.7,1134.8 798.7,1136.8 803.2,1138.6 807.7,1139.9" fill="none" stroke="#00ff00" stroke-width="3" stroke-linejoin="round"/><polyline points="456.2,1140.2 460.7,1139.6 464.7,1138.9 468.7,1138.1 472.7,1137.1 476.7,1135.9 480.2,1134.7 483.7,1133.3 486.7,1131.8 490.2,1129.9 493.2,1128.1 496.2,1126.1 499.2,1123.8 502.2,1121.3 505.2,1118.5 508.2,1115.5 510.7,1112.7 513.2,1109.8 515.7,1106.7 520.7,1099.9 525.7,1092.4 530.7,1084.1 535.2,1076.2 539.7,1067.9 554.7,1038.8 559.7,1029.3 564.2,1021.2 568.7,1013.7 573.2,1006.9 575.7,1003.6 577.7,1001.2 579.7,998.9 581.7,996.9 583.7,995.1 585.7,993.5 587.7,992.1 589.7,991.0 591.7,990.0 593.7,989.3 595.7,988.7 598.2,988.2 607.2,986.9 609.7,986.5 611.7,986.0 614.2,985.2 616.7,984.2 623.7,980.7 626.2,979.7 628.7,978.9 630.2,978.6 631.2,978.6 633.2,978.7 634.7,979.1 636.2,979.7 638.2,980.8 639.7,981.8 641.2,983.0 648.2,989.3 649.7,990.5 651.2,991.4 652.7,992.1 654.2,992.5 655.7,992.6 656.7,992.5 657.7,992.2 659.2,991.6 660.7,990.6 662.2,989.3 664.7,986.7 670.7,979.6 672.2,978.1 673.2,977.2 674.7,976.2 675.7,975.7 676.7,975.4 677.7,975.3 679.2,975.5 680.2,976.0 681.2,976.7 682.2,977.6 683.2,978.8 684.7,981.0 685.7,982.8 687.2,985.9 689.2,990.7 691.7,997.6 699.2,1020.9 702.2,1029.6 704.2,1034.8 705.7,1038.3 707.2,1041.4 708.7,1044.2 709.7,1045.8 711.2,1048.0 712.7,1049.8 714.2,1051.3 716.7,1053.4 722.7,1057.5 724.7,1059.2 726.2,1060.7 727.7,1062.5 729.2,1064.4 734.7,1072.8 735.7,1074.1 736.7,1074.9 737.2,1075.1 737.7,1075.2 738.2,1075.0 738.7,1074.6 739.2,1074.0 739.7,1073.1 740.2,1071.9 740.7,1070.4 741.7,1066.3 742.7,1060.8 743.7,1054.0 747.2,1024.9 748.7,1014.5 749.2,1012.0 749.7,1010.0 750.2,1008.7 750.7,1008.1 751.2,1008.2 751.7,1009.1 752.2,1010.8 752.7,1013.2 753.2,1016.2 754.2,1024.2 755.7,1039.7 759.2,1079.7 760.2,1089.4 761.2,1097.7 762.2,1104.6 763.2,1110.0 764.2,1114.2 764.7,1115.8 765.7,1118.5 766.7,1120.4 767.7,1121.7 768.7,1122.6 770.2,1123.5 771.7,1124.1 777.2,1125.8 780.7,1127.2 784.7,1129.2 793.7,1134.3 798.2,1136.6 802.7,1138.4 805.2,1139.3 807.7,1139.9" fill="none" stroke="#ff0000" stroke-width="3.2" stroke-linejoin="round"/><polyline points="456.6,1133.9 458.5,1130.3 459.8,1123.4 461.0,1120.6 462.2,1122.5 463.4,1123.0 464.6,1123.0 465.8,1120.5 467.0,1113.4 468.2,1116.4 469.4,1121.8 470.6,1124.8 471.8,1130.3 473.0,1133.9 474.2,1135.1 475.5,1130.5 476.7,1124.2 477.9,1121.4 479.1,1120.6 480.3,1125.2 481.5,1127.8 482.7,1125.5 483.9,1124.2 485.1,1122.0 486.3,1117.0 487.5,1122.2 488.7,1131.5 489.9,1121.0 491.2,1113.4 492.4,1118.5 493.6,1119.4 494.8,1125.9 496.0,1133.9 497.2,1120.6 498.4,1129.0 499.6,1139.9 500.8,1113.4 502.0,1120.4 503.2,1124.2 504.4,1113.4 505.6,1118.3 506.9,1121.8 508.1,1115.2 509.3,1112.4 510.5,1107.3 511.7,1113.8 512.9,1116.8 514.1,1124.2 515.3,1117.2 516.5,1108.5 517.7,1098.1 518.9,1091.6 520.1,1093.2 521.3,1096.4 522.6,1094.9 523.8,1097.7 525.2,1085.8 526.7,1077.1 528.2,1090.5 529.8,1098.9 531.0,1090.5 532.2,1083.2 533.4,1088.1 534.6,1088.0 535.8,1082.8 537.0,1078.3 538.3,1069.2 539.5,1059.0 541.0,1067.6 542.6,1072.3 543.8,1064.8 545.0,1055.4 546.4,1053.0 547.8,1055.0 549.1,1054.2 550.3,1047.0 551.5,1038.5 552.7,1044.7 554.0,1054.2 555.5,1033.3 557.1,1016.7 558.3,1028.3 559.5,1036.1 560.7,1034.9 561.9,1033.6 563.1,1023.0 564.3,1015.5 565.6,1021.3 566.8,1027.6 568.4,1010.7 569.7,1003.8 570.9,999.8 572.1,1002.6 573.3,1002.2 574.9,996.2 576.4,990.2 577.9,989.9 579.3,993.8 580.9,1002.7 582.5,1008.3 583.5,997.7 584.6,991.4 585.8,986.0 587.0,982.9 588.6,988.3 590.2,998.6 591.4,986.5 592.6,990.8 593.8,992.6 595.3,977.9 596.7,967.2 598.3,977.0 599.9,986.5 601.1,985.0 602.3,987.7 603.5,1002.1 604.7,1016.7 605.9,1000.2 607.1,981.7 608.3,979.5 609.5,976.6 610.7,974.5 611.3,974.5 612.5,989.0 614.2,980.5 615.8,987.1 617.3,993.8 618.5,991.0 619.8,989.0 621.0,984.0 622.2,978.1 623.4,980.2 624.6,986.5 625.8,990.0 627.0,993.8 628.2,984.0 629.4,976.9 630.6,975.8 631.8,970.8 633.0,974.9 634.2,974.5 635.5,969.6 637.4,956.3 638.6,955.9 639.8,960.0 641.5,964.8 643.2,998.6 645.1,985.3 647.0,993.8 648.7,1005.9 649.9,1005.8 651.2,1009.5 652.4,1008.1 653.6,1004.7 654.8,1002.0 656.0,998.6 657.7,990.2 659.6,985.3 660.8,979.8 662.0,979.3 664.0,984.1 665.6,1001.0 667.3,976.9 669.3,985.3 670.5,987.0 671.7,986.5 673.6,967.2 675.3,960.0 677.0,974.5 678.9,989.0 680.1,987.0 681.3,980.5 683.3,986.5 684.2,1003.4 686.2,962.4 687.4,1015.5 689.1,981.7 691.0,993.8 692.2,992.8 693.4,992.6 694.6,999.6 695.8,1008.3 697.8,1005.9 699.0,1016.5 700.2,1026.4 701.4,1024.5 702.6,1017.9 703.8,1016.7 705.0,1017.9 706.2,1029.0 707.4,1042.1 709.1,1049.3 710.3,1048.9 711.5,1051.8 712.7,1060.1 714.0,1066.9 715.2,1074.7 716.4,1064.4 717.6,1056.6 718.8,1054.8 720.0,1054.2 721.6,1035.5 723.1,1021.6 724.2,1032.1 725.3,1044.5 727.2,1059.0 728.4,1082.0 729.7,1062.6 731.1,1082.0 732.2,1077.8 733.3,1068.7 735.0,1071.1 736.4,1085.6 738.1,1066.3 739.3,1066.7 740.5,1066.3 741.7,1058.5 742.9,1053.0 744.5,1052.2 746.1,1046.9 747.5,1036.5 749.0,1027.6 750.4,1011.2 751.9,997.4 753.8,1027.6 755.0,1031.2 756.2,1039.7 757.4,1048.7 758.6,1061.4 760.6,1085.6 762.3,1126.6 764.0,1131.5 765.2,1133.5 766.4,1138.7 767.6,1126.4 768.8,1117.0 770.4,1114.7 771.9,1108.5 773.1,1106.7 774.3,1107.3 776.0,1092.8 778.0,1114.6 779.9,1131.5 781.8,1139.9 783.3,1130.3 784.9,1127.7 786.4,1127.8 787.6,1121.9 788.8,1117.1 790.0,1108.5 791.3,1112.9 792.5,1119.4 793.7,1126.8 794.9,1130.8 796.1,1137.5 797.3,1141.4 798.5,1145.3 799.7,1148.4 800.9,1148.3 802.1,1143.5 803.3,1145.5 804.5,1144.8 805.7,1139.4 807.0,1133.9" fill="none" stroke="#000" stroke-width="1.8" stroke-linejoin="round"/></g>
<rect x="456.2" y="901.6" width="351.6" height="259.0" fill="none" stroke="#000" stroke-width="2.5"/>
<rect x="464.3" y="910.2" width="100.3" height="102.6" fill="none" stroke="#000" stroke-width="2"/>
<line x1="472.7" y1="921.3" x2="497.2" y2="921.3" stroke="#6f00b3" stroke-width="2.7" stroke-linecap="round"/>
<line x1="472.7" y1="935.0" x2="497.2" y2="935.0" stroke="#ff00ff" stroke-width="2.7" stroke-linecap="round"/>
<line x1="472.7" y1="948.7" x2="497.2" y2="948.7" stroke="#0000ff" stroke-width="2.7" stroke-linecap="round"/>
<line x1="472.7" y1="962.4" x2="497.2" y2="962.4" stroke="#00ffff" stroke-width="2.7" stroke-linecap="round"/>
<line x1="472.7" y1="976.1" x2="497.2" y2="976.1" stroke="#008080" stroke-width="2.7" stroke-linecap="round"/>
<line x1="472.7" y1="989.8" x2="497.2" y2="989.8" stroke="#00ff00" stroke-width="2.7" stroke-linecap="round"/>
<line x1="472.7" y1="1003.5" x2="497.2" y2="1003.5" stroke="#ff0000" stroke-width="2.7" stroke-linecap="round"/>
<g font-family="Liberation Serif, serif" font-size="7" fill="#3a3a3a"><text x="499.0" y="924.6">377 nm</text><text x="499.0" y="938.3">404 nm</text><text x="499.0" y="952.0">432 nm</text><text x="499.0" y="965.7">461 nm</text><text x="499.0" y="979.4">474 nm</text><text x="499.0" y="993.1">490 nm</text><text x="499.0" y="1006.8">Cumulative Fit Peak</text></g>
<text x="413.6" y="928.6" font-family="Liberation Serif, serif" font-size="25.5" letter-spacing="-0.7" fill="#000">(h)</text>
<text transform="translate(436.5,1044.0) rotate(-90)" text-anchor="middle" font-family="Liberation Serif, serif" font-size="22" fill="#111">Intensity (a.u.)</text>
<text x="231.0" y="1208.6" text-anchor="middle" font-family="Liberation Serif, serif" font-size="21.6" fill="#111">Wavelength (nm)</text>
<text x="640.3" y="1210.1" text-anchor="middle" font-family="Liberation Serif, serif" font-size="21.6" fill="#111">Wavelength (nm)</text>
</svg>
</body></html>
